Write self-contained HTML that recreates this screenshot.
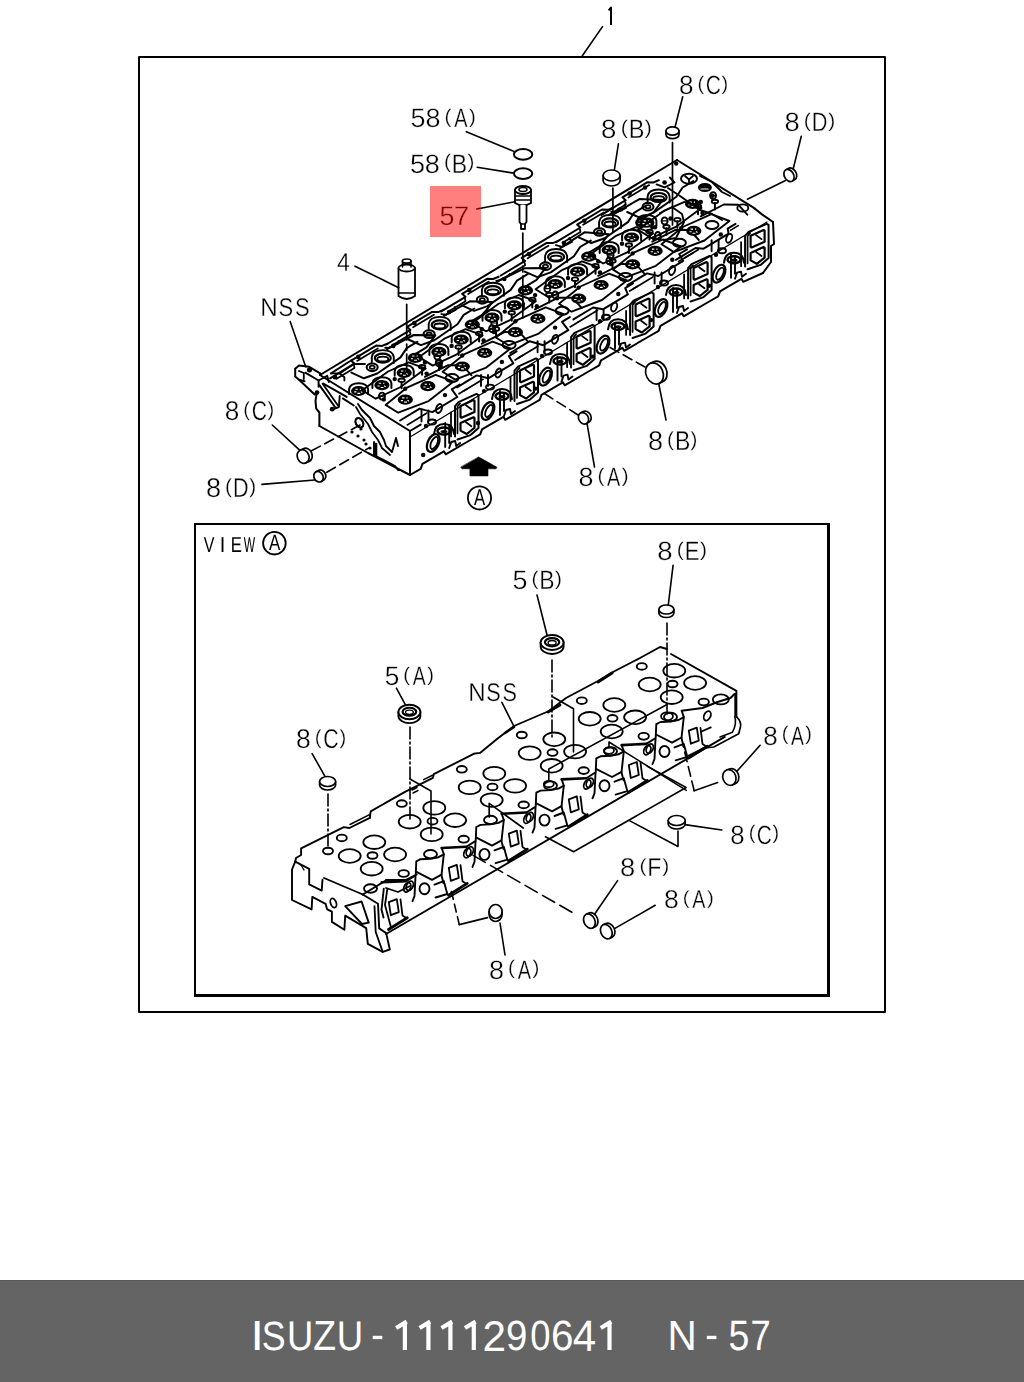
<!DOCTYPE html>
<html><head><meta charset="utf-8"><style>
html,body{margin:0;padding:0;background:#fff;}
body{width:1024px;height:1382px;position:relative;overflow:hidden;}
svg{position:absolute;left:0;top:0;}
svg text{text-rendering:geometricPrecision;}
.main{will-change:transform;}
svg text{font-family:"Liberation Sans",sans-serif;}
.bar{position:absolute;left:0;top:1280px;width:1024px;height:102px;background:#646464;}
.bar span{position:absolute;top:0;white-space:nowrap;color:#fff;font-family:"Liberation Sans",sans-serif;}
</style></head><body>
<svg class="main" width="1024" height="1280" viewBox="0 0 1024 1280" stroke="#000" stroke-linecap="round" stroke-linejoin="round" fill="none">
<rect x="139" y="57" width="746" height="955" stroke-width="2" fill="none"/>
<path d="M194,523 H830 V997 H194 Z M196,525 V994 H827 V525 Z" fill="#000" fill-rule="evenodd" stroke="none"/>
<path d="M611,24.9 L611,7.6 L608.6,10.3" stroke-width="2" stroke-linecap="butt"/>
<line x1="602.5" y1="26.6" x2="582.2" y2="56.0" stroke-width="1.6"/>
<text transform="translate(410.52,127.00) scale(0.2694,0.2643)" font-size="100" fill="#000" stroke="#fff" stroke-width="1.2">5</text>
<text transform="translate(425.41,127.00) scale(0.2694,0.2643)" font-size="100" fill="#000" stroke="#fff" stroke-width="1.2">8</text>
<text transform="translate(444.50,122.87) scale(0.2065,0.1968)" font-size="100" fill="#000" stroke="#fff" stroke-width="1.2">(</text>
<text transform="translate(454.14,127.00) scale(0.1995,0.2643)" font-size="100" fill="#000" stroke="#fff" stroke-width="1.2">A</text>
<text transform="translate(468.93,122.87) scale(0.2065,0.1968)" font-size="100" fill="#000" stroke="#fff" stroke-width="1.2">)</text>
<text transform="translate(409.92,172.50) scale(0.2703,0.2643)" font-size="100" fill="#000" stroke="#fff" stroke-width="1.2">5</text>
<text transform="translate(424.86,172.50) scale(0.2703,0.2643)" font-size="100" fill="#000" stroke="#fff" stroke-width="1.2">8</text>
<text transform="translate(444.01,168.37) scale(0.2072,0.1968)" font-size="100" fill="#000" stroke="#fff" stroke-width="1.2">(</text>
<text transform="translate(451.85,172.50) scale(0.2301,0.2643)" font-size="100" fill="#000" stroke="#fff" stroke-width="1.2">B</text>
<text transform="translate(467.51,168.37) scale(0.2072,0.1968)" font-size="100" fill="#000" stroke="#fff" stroke-width="1.2">)</text>
<text transform="translate(678.96,94.00) scale(0.2610,0.2643)" font-size="100" fill="#000" stroke="#fff" stroke-width="1.2">8</text>
<text transform="translate(697.44,89.87) scale(0.2000,0.1968)" font-size="100" fill="#000" stroke="#fff" stroke-width="1.2">(</text>
<text transform="translate(705.74,94.00) scale(0.2103,0.2643)" font-size="100" fill="#000" stroke="#fff" stroke-width="1.2">C</text>
<text transform="translate(721.60,89.87) scale(0.2000,0.1968)" font-size="100" fill="#000" stroke="#fff" stroke-width="1.2">)</text>
<text transform="translate(601.09,138.00) scale(0.2763,0.2643)" font-size="100" fill="#000" stroke="#fff" stroke-width="1.2">8</text>
<text transform="translate(620.67,133.87) scale(0.2118,0.1968)" font-size="100" fill="#000" stroke="#fff" stroke-width="1.2">(</text>
<text transform="translate(628.68,138.00) scale(0.2352,0.2643)" font-size="100" fill="#000" stroke="#fff" stroke-width="1.2">B</text>
<text transform="translate(644.68,133.87) scale(0.2118,0.1968)" font-size="100" fill="#000" stroke="#fff" stroke-width="1.2">)</text>
<text transform="translate(784.40,131.00) scale(0.2739,0.2643)" font-size="100" fill="#000" stroke="#fff" stroke-width="1.2">8</text>
<text transform="translate(803.81,126.87) scale(0.2099,0.1968)" font-size="100" fill="#000" stroke="#fff" stroke-width="1.2">(</text>
<text transform="translate(811.87,131.00) scale(0.2182,0.2643)" font-size="100" fill="#000" stroke="#fff" stroke-width="1.2">D</text>
<text transform="translate(828.13,126.87) scale(0.2099,0.1968)" font-size="100" fill="#000" stroke="#fff" stroke-width="1.2">)</text>
<text transform="translate(337.04,270.50) scale(0.2314,0.2571)" font-size="100" fill="#000" stroke="#fff" stroke-width="1.2">4</text>
<text transform="translate(260.36,316.00) scale(0.2426,0.2571)" font-size="100" fill="#000" stroke="#fff" stroke-width="1.2">N</text>
<text transform="translate(278.60,316.00) scale(0.2193,0.2571)" font-size="100" fill="#000" stroke="#fff" stroke-width="1.2">S</text>
<text transform="translate(294.90,316.00) scale(0.2193,0.2571)" font-size="100" fill="#000" stroke="#fff" stroke-width="1.2">S</text>
<text transform="translate(224.75,420.00) scale(0.2621,0.2714)" font-size="100" fill="#000" stroke="#fff" stroke-width="1.2">8</text>
<text transform="translate(243.32,415.76) scale(0.2009,0.2021)" font-size="100" fill="#000" stroke="#fff" stroke-width="1.2">(</text>
<text transform="translate(251.65,420.00) scale(0.2112,0.2714)" font-size="100" fill="#000" stroke="#fff" stroke-width="1.2">C</text>
<text transform="translate(267.58,415.76) scale(0.2009,0.2021)" font-size="100" fill="#000" stroke="#fff" stroke-width="1.2">)</text>
<text transform="translate(205.92,497.00) scale(0.2711,0.2714)" font-size="100" fill="#000" stroke="#fff" stroke-width="1.2">8</text>
<text transform="translate(225.12,492.76) scale(0.2078,0.2021)" font-size="100" fill="#000" stroke="#fff" stroke-width="1.2">(</text>
<text transform="translate(233.10,497.00) scale(0.2159,0.2714)" font-size="100" fill="#000" stroke="#fff" stroke-width="1.2">D</text>
<text transform="translate(249.19,492.76) scale(0.2078,0.2021)" font-size="100" fill="#000" stroke="#fff" stroke-width="1.2">)</text>
<text transform="translate(578.43,486.00) scale(0.2682,0.2643)" font-size="100" fill="#000" stroke="#fff" stroke-width="1.2">8</text>
<text transform="translate(597.43,481.87) scale(0.2056,0.1968)" font-size="100" fill="#000" stroke="#fff" stroke-width="1.2">(</text>
<text transform="translate(607.03,486.00) scale(0.1986,0.2643)" font-size="100" fill="#000" stroke="#fff" stroke-width="1.2">A</text>
<text transform="translate(621.75,481.87) scale(0.2056,0.1968)" font-size="100" fill="#000" stroke="#fff" stroke-width="1.2">)</text>
<text transform="translate(647.92,450.00) scale(0.2705,0.2714)" font-size="100" fill="#000" stroke="#fff" stroke-width="1.2">8</text>
<text transform="translate(667.08,445.76) scale(0.2074,0.2021)" font-size="100" fill="#000" stroke="#fff" stroke-width="1.2">(</text>
<text transform="translate(674.93,450.00) scale(0.2303,0.2714)" font-size="100" fill="#000" stroke="#fff" stroke-width="1.2">B</text>
<text transform="translate(690.60,445.76) scale(0.2074,0.2021)" font-size="100" fill="#000" stroke="#fff" stroke-width="1.2">)</text>
<text transform="translate(203.64,551.60) scale(0.1600,0.2159)" font-size="100" fill="#000" stroke="#fff" stroke-width="0">V</text>
<text transform="translate(219.70,551.60) scale(0.2000,0.2159)" font-size="100" fill="#000" stroke="#fff" stroke-width="0">I</text>
<text transform="translate(230.67,551.60) scale(0.1667,0.2159)" font-size="100" fill="#000" stroke="#fff" stroke-width="0">E</text>
<text transform="translate(243.68,551.60) scale(0.1204,0.2159)" font-size="100" fill="#000" stroke="#fff" stroke-width="0">W</text>
<text transform="translate(657.20,560.00) scale(0.2752,0.2643)" font-size="100" fill="#000" stroke="#fff" stroke-width="1.2">8</text>
<text transform="translate(676.70,555.87) scale(0.2110,0.1968)" font-size="100" fill="#000" stroke="#fff" stroke-width="1.2">(</text>
<text transform="translate(684.79,560.00) scale(0.2204,0.2643)" font-size="100" fill="#000" stroke="#fff" stroke-width="1.2">E</text>
<text transform="translate(700.10,555.87) scale(0.2110,0.1968)" font-size="100" fill="#000" stroke="#fff" stroke-width="1.2">)</text>
<text transform="translate(512.42,589.00) scale(0.2700,0.2643)" font-size="100" fill="#000" stroke="#fff" stroke-width="1.2">5</text>
<text transform="translate(531.55,584.87) scale(0.2069,0.1968)" font-size="100" fill="#000" stroke="#fff" stroke-width="1.2">(</text>
<text transform="translate(539.37,589.00) scale(0.2298,0.2643)" font-size="100" fill="#000" stroke="#fff" stroke-width="1.2">B</text>
<text transform="translate(555.01,584.87) scale(0.2069,0.1968)" font-size="100" fill="#000" stroke="#fff" stroke-width="1.2">)</text>
<text transform="translate(384.75,685.00) scale(0.2626,0.2643)" font-size="100" fill="#000" stroke="#fff" stroke-width="1.2">5</text>
<text transform="translate(403.35,680.87) scale(0.2013,0.1968)" font-size="100" fill="#000" stroke="#fff" stroke-width="1.2">(</text>
<text transform="translate(412.75,685.00) scale(0.1945,0.2643)" font-size="100" fill="#000" stroke="#fff" stroke-width="1.2">A</text>
<text transform="translate(427.17,680.87) scale(0.2013,0.1968)" font-size="100" fill="#000" stroke="#fff" stroke-width="1.2">)</text>
<text transform="translate(468.28,701.00) scale(0.2400,0.2571)" font-size="100" fill="#000" stroke="#fff" stroke-width="1.2">N</text>
<text transform="translate(486.32,701.00) scale(0.2169,0.2571)" font-size="100" fill="#000" stroke="#fff" stroke-width="1.2">S</text>
<text transform="translate(502.45,701.00) scale(0.2169,0.2571)" font-size="100" fill="#000" stroke="#fff" stroke-width="1.2">S</text>
<text transform="translate(296.04,748.00) scale(0.2654,0.2714)" font-size="100" fill="#000" stroke="#fff" stroke-width="1.2">8</text>
<text transform="translate(314.84,743.76) scale(0.2034,0.2021)" font-size="100" fill="#000" stroke="#fff" stroke-width="1.2">(</text>
<text transform="translate(323.27,748.00) scale(0.2138,0.2714)" font-size="100" fill="#000" stroke="#fff" stroke-width="1.2">C</text>
<text transform="translate(339.41,743.76) scale(0.2034,0.2021)" font-size="100" fill="#000" stroke="#fff" stroke-width="1.2">)</text>
<text transform="translate(763.16,744.50) scale(0.2609,0.2643)" font-size="100" fill="#000" stroke="#fff" stroke-width="1.2">8</text>
<text transform="translate(781.64,740.37) scale(0.2000,0.1968)" font-size="100" fill="#000" stroke="#fff" stroke-width="1.2">(</text>
<text transform="translate(790.98,744.50) scale(0.1932,0.2643)" font-size="100" fill="#000" stroke="#fff" stroke-width="1.2">A</text>
<text transform="translate(805.30,740.37) scale(0.2000,0.1968)" font-size="100" fill="#000" stroke="#fff" stroke-width="1.2">)</text>
<text transform="translate(730.37,843.50) scale(0.2582,0.2643)" font-size="100" fill="#000" stroke="#fff" stroke-width="1.2">8</text>
<text transform="translate(748.66,839.37) scale(0.1979,0.1968)" font-size="100" fill="#000" stroke="#fff" stroke-width="1.2">(</text>
<text transform="translate(756.86,843.50) scale(0.2080,0.2643)" font-size="100" fill="#000" stroke="#fff" stroke-width="1.2">C</text>
<text transform="translate(772.56,839.37) scale(0.1979,0.1968)" font-size="100" fill="#000" stroke="#fff" stroke-width="1.2">)</text>
<text transform="translate(620.01,876.00) scale(0.2736,0.2571)" font-size="100" fill="#000" stroke="#fff" stroke-width="1.2">8</text>
<text transform="translate(639.39,871.98) scale(0.2097,0.1915)" font-size="100" fill="#000" stroke="#fff" stroke-width="1.2">(</text>
<text transform="translate(647.33,876.00) scale(0.2309,0.2571)" font-size="100" fill="#000" stroke="#fff" stroke-width="1.2">F</text>
<text transform="translate(662.14,871.98) scale(0.2097,0.1915)" font-size="100" fill="#000" stroke="#fff" stroke-width="1.2">)</text>
<text transform="translate(663.93,908.00) scale(0.2665,0.2571)" font-size="100" fill="#000" stroke="#fff" stroke-width="1.2">8</text>
<text transform="translate(682.81,903.98) scale(0.2043,0.1915)" font-size="100" fill="#000" stroke="#fff" stroke-width="1.2">(</text>
<text transform="translate(692.36,908.00) scale(0.1974,0.2571)" font-size="100" fill="#000" stroke="#fff" stroke-width="1.2">A</text>
<text transform="translate(706.98,903.98) scale(0.2043,0.1915)" font-size="100" fill="#000" stroke="#fff" stroke-width="1.2">)</text>
<text transform="translate(488.92,978.50) scale(0.2693,0.2643)" font-size="100" fill="#000" stroke="#fff" stroke-width="1.2">8</text>
<text transform="translate(508.00,974.37) scale(0.2064,0.1968)" font-size="100" fill="#000" stroke="#fff" stroke-width="1.2">(</text>
<text transform="translate(517.65,978.50) scale(0.1995,0.2643)" font-size="100" fill="#000" stroke="#fff" stroke-width="1.2">A</text>
<text transform="translate(532.43,974.37) scale(0.2064,0.1968)" font-size="100" fill="#000" stroke="#fff" stroke-width="1.2">)</text>
<ellipse cx="274.4" cy="543.2" rx="11.3" ry="11.3" fill="none" stroke-width="1.8"/>
<text transform="translate(269.00,550.20) scale(0.1697,0.2203)" font-size="100" fill="#000" stroke="#fff" stroke-width="0">A</text>
<ellipse cx="479.5" cy="497.9" rx="11.6" ry="11.6" fill="none" stroke-width="1.8"/>
<text transform="translate(474.00,504.70) scale(0.1667,0.2275)" font-size="100" fill="#000" stroke="#fff" stroke-width="0">A</text>
<path d="M478.9,457.1 L497.0,467.3 L496.0,468.8 L488.0,468.8 L488.0,475.9 L469.9,475.9 L469.9,468.8 L462.0,468.8 L460.9,467.3 Z" fill="#000" stroke-width="0.6"/>
<path d="M320.0,375.0 L677.0,160.0" fill="none" stroke-width="2.0"/>
<path d="M677.0,160.0 L753.5,207.6 L762.0,214.4 L773.0,222.0" fill="none" stroke-width="2.0"/>
<path d="M320.0,375.0 L410.0,431.0" fill="none" stroke-width="2.0"/>
<path d="M410.0,431.0 L410.0,475.0" fill="none" stroke-width="2.0"/>
<path d="M319.4,426.0 L368.0,453.0 L410.0,475.0" fill="none" stroke-width="2.0"/>
<ellipse cx="359.4" cy="422.8" rx="3.5" ry="5" fill="none" stroke-width="2.0" transform="rotate(-30 359.4 422.8)"/>
<path d="M358.0,404.0 L362.0,410.0 L370.0,418.0 L374.0,426.0 L380.0,432.0 L384.0,440.0 L386.0,446.0 L392.0,452.0 L396.0,438.0 L398.0,446.0" fill="none" stroke-width="1.9"/>
<path d="M356.0,407.0 L360.0,414.0 L368.0,424.0 L372.0,432.0 L378.0,440.0 L382.0,448.0 L390.0,455.0" fill="none" stroke-width="1.7"/>
<circle cx="352.0" cy="432.0" r="1.6" fill="#000" stroke="none"/>
<circle cx="358.0" cy="436.0" r="1.6" fill="#000" stroke="none"/>
<circle cx="364.0" cy="440.0" r="1.6" fill="#000" stroke="none"/>
<circle cx="361.0" cy="429.0" r="1.6" fill="#000" stroke="none"/>
<circle cx="366.0" cy="444.0" r="1.6" fill="#000" stroke="none"/>
<circle cx="370.0" cy="448.0" r="1.6" fill="#000" stroke="none"/>
<path d="M374.0,442.0 L374.0,455.0 L395.0,466.0 L398.0,470.0 L400.0,470.0" fill="none" stroke-width="1.9"/>
<path d="M376.0,444.0 L376.0,456.0" fill="none" stroke-width="2.6"/>
<path d="M410.0,475.0 L420.7,468.8 L422.5,463.8 L443.9,451.3 L445.7,454.3 L469.5,440.5 L469.5,440.5 L480.2,434.3 L482.0,429.3 L503.4,416.8 L505.2,419.8 L529.0,406.0 L529.0,406.0 L539.7,399.8 L541.5,394.8 L562.9,382.3 L564.7,385.3 L588.5,371.5 L588.5,371.5 L599.2,365.3 L601.0,360.3 L622.4,347.8 L624.2,350.8 L648.0,337.0 L648.0,337.0 L658.7,330.8 L660.5,325.8 L681.9,313.3 L683.7,316.3 L707.5,302.5 L707.5,302.5 L718.2,296.3 L720.0,291.3 L741.4,278.8 L743.2,281.8 L763.0,273.0" fill="none" stroke-width="2.0"/>
<path d="M773.0,222.0 L774.0,244.0 L771.0,246.0 L771.0,262.0 L763.0,273.0" fill="none" stroke-width="2.0"/>
<path d="M330.1,378.3 L354.4,363.6 L351.1,360.7 L376.1,345.6 L382.1,345.9 L387.6,343.6" fill="none" stroke-width="2.0"/>
<path d="M357.1,360.9 L377.8,348.5" fill="none" stroke-width="1.8"/>
<path d="M336.6,378.8 L354.5,368.0 L354.0,365.6" fill="none" stroke-width="1.8"/>
<circle cx="358.3" cy="356.9" r="2.3" fill="#000" stroke="none"/>
<circle cx="393.3" cy="345.9" r="2.3" fill="#000" stroke="none"/>
<path d="M385.2,347.8 L388.8,347.9 L398.6,343.1 L398.6,340.9" fill="none" stroke-width="1.9"/>
<path d="M371.8,363.1 L371.8,357.1 Q372.8,350.1 382.8,350.1 Q392.8,350.1 393.8,357.1 L393.8,363.1" stroke-width="1.9"/>
<ellipse cx="382.8" cy="358.1" rx="8" ry="4.5" fill="none" stroke-width="2.2"/>
<ellipse cx="382.8" cy="359.1" rx="5.5" ry="2.4" fill="none" stroke-width="1.8"/>
<ellipse cx="372.2" cy="367.3" rx="5.5" ry="3.8" fill="none" stroke-width="2.1"/>
<ellipse cx="372.2" cy="367.3" rx="2.5" ry="1.6" fill="none" stroke-width="1.8"/>
<path d="M351.4,372.6 L363.9,378.3 L377.3,373.5 L400.5,357.4 L406.7,348.1 L417.5,341.7" fill="none" stroke-width="2.0"/>
<path d="M387.0,349.0 L413.8,335.0 L435.3,335.3 L426.5,347.3 L414.0,354.8" fill="none" stroke-width="2.0"/>
<path d="M372.4,388.1 L372.4,383.1 Q373.4,377.3 381.9,377.3 Q390.4,377.3 391.4,383.1 L391.4,388.1" stroke-width="2"/>
<ellipse cx="381.9" cy="385.1" rx="7.6" ry="5.1" fill="#000" stroke="none"/>
<path d="M378.7,383.3 h2.4 M383.1,383.3 h1.2 M377.5,386.0 h2.2 M380.7,387.5 h2.8 M384.1,385.7 l1.5,1" stroke="#fff" stroke-width="1.1" stroke-linecap="butt"/>
<path d="M394.7,375.8 L394.7,370.8 Q395.7,365.0 404.2,365.0 Q412.7,365.0 413.7,370.8 L413.7,375.8" stroke-width="2"/>
<ellipse cx="404.2" cy="372.8" rx="7.6" ry="5.1" fill="#000" stroke="none"/>
<path d="M401.0,371.0 h2.4 M405.4,371.0 h1.2 M399.8,373.7 h2.2 M403.0,375.2 h2.8 M406.4,373.4 l1.5,1" stroke="#fff" stroke-width="1.1" stroke-linecap="butt"/>
<ellipse cx="405.3" cy="399.7" rx="7.6" ry="5.1" fill="#000" stroke="none"/>
<path d="M402.1,397.9 h2.4 M406.5,397.9 h1.2 M400.9,400.6 h2.2 M404.1,402.1 h2.8 M407.5,400.3 l1.5,1" stroke="#fff" stroke-width="1.1" stroke-linecap="butt"/>
<ellipse cx="427.8" cy="386.1" rx="7.6" ry="5.1" fill="#000" stroke="none"/>
<path d="M424.6,384.3 h2.4 M429.0,384.3 h1.2 M423.4,387.0 h2.2 M426.6,388.5 h2.8 M430.0,386.7 l1.5,1" stroke="#fff" stroke-width="1.1" stroke-linecap="butt"/>
<ellipse cx="415.3" cy="357.8" rx="7.6" ry="5.1" fill="#000" stroke="none"/>
<path d="M412.1,356.0 h2.4 M416.5,356.0 h1.2 M410.9,358.7 h2.2 M414.1,360.2 h2.8 M417.5,358.4 l1.5,1" stroke="#fff" stroke-width="1.1" stroke-linecap="butt"/>
<ellipse cx="452.1" cy="378.1" rx="6.5" ry="4" fill="none" stroke-width="2"/>
<path d="M349.1,394.0 L349.1,389.0 Q350.1,383.2 358.6,383.2 Q367.1,383.2 368.1,389.0 L368.1,394.0" stroke-width="2"/>
<ellipse cx="358.6" cy="391.0" rx="7.6" ry="5.1" fill="#000" stroke="none"/>
<path d="M355.4,389.2 h2.4 M359.8,389.2 h1.2 M354.2,391.9 h2.2 M357.4,393.4 h2.8 M360.8,391.6 l1.5,1" stroke="#fff" stroke-width="1.1" stroke-linecap="butt"/>
<circle cx="424.9" cy="362.5" r="2.2" fill="#000" stroke="none"/>
<circle cx="445.0" cy="395.1" r="2.2" fill="#000" stroke="none"/>
<circle cx="394.7" cy="379.1" r="2.2" fill="#000" stroke="none"/>
<circle cx="383.8" cy="399.4" r="2.2" fill="#000" stroke="none"/>
<circle cx="426.6" cy="373.6" r="2.2" fill="#000" stroke="none"/>
<circle cx="405.2" cy="388.7" r="2.2" fill="#000" stroke="none"/>
<ellipse cx="401.6" cy="380.3" rx="3.2" ry="1.8" fill="none" stroke-width="1.9"/>
<path d="M401.6,381.8 L401.6,388.3" fill="none" stroke-width="2.0"/>
<ellipse cx="422.1" cy="366.8" rx="3.2" ry="1.8" fill="none" stroke-width="1.9"/>
<path d="M422.1,368.3 L422.1,374.8" fill="none" stroke-width="2.0"/>
<ellipse cx="439.1" cy="362.1" rx="3.2" ry="1.8" fill="none" stroke-width="1.9"/>
<path d="M439.1,363.6 L439.1,370.1" fill="none" stroke-width="2.0"/>
<ellipse cx="382.0" cy="396.1" rx="3" ry="3.5" fill="none" stroke-width="1.9"/>
<line x1="380.0" y1="396.1" x2="384.0" y2="396.1" stroke-width="1.2"/>
<ellipse cx="437.3" cy="356.2" rx="3" ry="3.5" fill="none" stroke-width="1.9"/>
<line x1="435.3" y1="356.2" x2="439.3" y2="356.2" stroke-width="1.2"/>
<path d="M362.2,390.3 L388.1,371.5 L408.6,362.4 L425.7,368.6 L399.8,387.5 L375.7,398.7 Z" fill="none" stroke-width="1.9"/>
<path d="M385.6,404.9 L407.0,387.6 L435.6,374.8 L453.6,381.6 L428.6,401.1 L398.2,412.7 Z" fill="none" stroke-width="1.9"/>
<path d="M424.9,376.9 L448.1,365.1 L462.4,365.3 L471.5,375.3" fill="none" stroke-width="1.9"/>
<path d="M400.1,420.5 L419.7,408.6 L432.3,412.1 L457.3,397.0 L451.8,389.3 L459.7,384.5" fill="none" stroke-width="2.0"/>
<path d="M407.3,424.9 L426.9,413.1" fill="none" stroke-width="1.7"/>
<path d="M459.0,393.8 L466.9,389.0" fill="none" stroke-width="1.7"/>
<path d="M386.2,344.5 L410.5,329.9 L407.1,326.9 L432.1,311.9 L438.1,312.1 L443.7,309.9" fill="none" stroke-width="2.0"/>
<path d="M413.1,327.2 L433.9,314.7" fill="none" stroke-width="1.8"/>
<path d="M392.7,345.0 L410.5,334.3 L410.0,331.8" fill="none" stroke-width="1.8"/>
<circle cx="414.4" cy="323.1" r="2.3" fill="#000" stroke="none"/>
<circle cx="449.3" cy="312.1" r="2.3" fill="#000" stroke="none"/>
<path d="M441.3,314.1 L445.8,314.7 L455.6,309.9 L454.7,307.1" fill="none" stroke-width="1.9"/>
<path d="M428.7,329.9 L428.7,323.9 Q429.7,316.9 439.7,316.9 Q449.7,316.9 450.7,323.9 L450.7,329.9" stroke-width="1.9"/>
<ellipse cx="439.7" cy="324.9" rx="8" ry="4.5" fill="none" stroke-width="2.2"/>
<ellipse cx="439.7" cy="325.9" rx="5.5" ry="2.4" fill="none" stroke-width="1.8"/>
<ellipse cx="429.1" cy="334.1" rx="5.5" ry="3.8" fill="none" stroke-width="2.1"/>
<ellipse cx="429.1" cy="334.1" rx="2.5" ry="1.6" fill="none" stroke-width="1.8"/>
<path d="M408.3,339.5 L420.9,345.1 L434.3,340.3 L457.5,324.2 L463.7,314.9 L474.4,308.5" fill="none" stroke-width="2.0"/>
<path d="M444.0,315.8 L469.9,301.3 L492.3,302.1 L483.4,314.1 L470.9,321.6" fill="none" stroke-width="2.0"/>
<path d="M429.4,354.9 L429.4,349.9 Q430.4,344.1 438.9,344.1 Q447.4,344.1 448.4,349.9 L448.4,354.9" stroke-width="2"/>
<ellipse cx="438.9" cy="351.9" rx="7.6" ry="5.1" fill="#000" stroke="none"/>
<path d="M435.7,350.1 h2.4 M440.1,350.1 h1.2 M434.5,352.8 h2.2 M437.7,354.3 h2.8 M441.1,352.5 l1.5,1" stroke="#fff" stroke-width="1.1" stroke-linecap="butt"/>
<path d="M451.7,342.6 L451.7,337.6 Q452.7,331.8 461.2,331.8 Q469.7,331.8 470.7,337.6 L470.7,342.6" stroke-width="2"/>
<ellipse cx="461.2" cy="339.6" rx="7.6" ry="5.1" fill="#000" stroke="none"/>
<path d="M458.0,337.8 h2.4 M462.4,337.8 h1.2 M456.8,340.5 h2.2 M460.0,342.0 h2.8 M463.4,340.2 l1.5,1" stroke="#fff" stroke-width="1.1" stroke-linecap="butt"/>
<ellipse cx="462.3" cy="366.5" rx="7.6" ry="5.1" fill="#000" stroke="none"/>
<path d="M459.1,364.7 h2.4 M463.5,364.7 h1.2 M457.9,367.4 h2.2 M461.1,368.9 h2.8 M464.5,367.1 l1.5,1" stroke="#fff" stroke-width="1.1" stroke-linecap="butt"/>
<ellipse cx="484.7" cy="352.9" rx="7.6" ry="5.1" fill="#000" stroke="none"/>
<path d="M481.5,351.1 h2.4 M485.9,351.1 h1.2 M480.3,353.8 h2.2 M483.5,355.3 h2.8 M486.9,353.5 l1.5,1" stroke="#fff" stroke-width="1.1" stroke-linecap="butt"/>
<ellipse cx="472.3" cy="324.6" rx="7.6" ry="5.1" fill="#000" stroke="none"/>
<path d="M469.1,322.8 h2.4 M473.5,322.8 h1.2 M467.9,325.5 h2.2 M471.1,327.0 h2.8 M474.5,325.2 l1.5,1" stroke="#fff" stroke-width="1.1" stroke-linecap="butt"/>
<ellipse cx="509.1" cy="344.9" rx="6.5" ry="4" fill="none" stroke-width="2"/>
<circle cx="481.9" cy="329.3" r="2.2" fill="#000" stroke="none"/>
<circle cx="501.9" cy="361.9" r="2.2" fill="#000" stroke="none"/>
<circle cx="451.6" cy="345.9" r="2.2" fill="#000" stroke="none"/>
<circle cx="440.7" cy="366.2" r="2.2" fill="#000" stroke="none"/>
<circle cx="483.6" cy="340.4" r="2.2" fill="#000" stroke="none"/>
<circle cx="462.2" cy="355.5" r="2.2" fill="#000" stroke="none"/>
<ellipse cx="458.6" cy="347.1" rx="3.2" ry="1.8" fill="none" stroke-width="1.9"/>
<path d="M458.6,348.6 L458.6,355.1" fill="none" stroke-width="2.0"/>
<ellipse cx="479.1" cy="333.6" rx="3.2" ry="1.8" fill="none" stroke-width="1.9"/>
<path d="M479.1,335.1 L479.1,341.6" fill="none" stroke-width="2.0"/>
<ellipse cx="496.1" cy="328.9" rx="3.2" ry="1.8" fill="none" stroke-width="1.9"/>
<path d="M496.1,330.4 L496.1,336.9" fill="none" stroke-width="2.0"/>
<ellipse cx="438.9" cy="362.9" rx="3" ry="3.5" fill="none" stroke-width="1.9"/>
<line x1="436.9" y1="362.9" x2="440.9" y2="362.9" stroke-width="1.2"/>
<ellipse cx="494.2" cy="323.0" rx="3" ry="3.5" fill="none" stroke-width="1.9"/>
<line x1="492.2" y1="323.0" x2="496.2" y2="323.0" stroke-width="1.2"/>
<path d="M419.2,357.1 L445.0,338.3 L465.6,329.2 L482.7,335.4 L456.8,354.3 L432.7,365.6 Z" fill="none" stroke-width="1.9"/>
<path d="M442.6,371.7 L464.0,354.4 L492.6,341.6 L510.5,348.4 L485.6,367.9 L455.2,379.6 Z" fill="none" stroke-width="1.9"/>
<path d="M481.8,343.7 L505.0,331.9 L519.4,332.1 L528.4,342.1" fill="none" stroke-width="1.9"/>
<path d="M457.0,387.3 L476.7,375.4 L488.3,378.3 L513.3,363.3 L508.8,356.1 L516.6,351.4" fill="none" stroke-width="2.0"/>
<path d="M463.3,391.2 L483.0,379.3" fill="none" stroke-width="1.7"/>
<path d="M515.1,360.0 L522.9,355.3" fill="none" stroke-width="1.7"/>
<path d="M441.2,311.4 L465.5,296.8 L462.1,293.8 L487.1,278.8 L493.1,279.0 L498.7,276.8" fill="none" stroke-width="2.0"/>
<path d="M468.1,294.1 L488.8,281.6" fill="none" stroke-width="1.8"/>
<path d="M447.6,311.9 L465.5,301.2 L465.0,298.7" fill="none" stroke-width="1.8"/>
<circle cx="469.3" cy="290.0" r="2.3" fill="#000" stroke="none"/>
<circle cx="504.3" cy="279.0" r="2.3" fill="#000" stroke="none"/>
<path d="M496.3,281.0 L498.9,280.5 L508.8,275.6 L509.7,274.0" fill="none" stroke-width="1.9"/>
<path d="M481.9,295.7 L481.9,289.7 Q482.9,282.7 492.9,282.7 Q502.9,282.7 503.9,289.7 L503.9,295.7" stroke-width="1.9"/>
<ellipse cx="492.9" cy="290.7" rx="8" ry="4.5" fill="none" stroke-width="2.2"/>
<ellipse cx="492.9" cy="291.7" rx="5.5" ry="2.4" fill="none" stroke-width="1.8"/>
<ellipse cx="482.3" cy="299.8" rx="5.5" ry="3.8" fill="none" stroke-width="2.1"/>
<ellipse cx="482.3" cy="299.8" rx="2.5" ry="1.6" fill="none" stroke-width="1.8"/>
<path d="M461.5,305.2 L474.1,310.9 L487.5,306.1 L510.7,289.9 L516.9,280.7 L527.6,274.2" fill="none" stroke-width="2.0"/>
<path d="M497.2,281.5 L524.9,268.2 L545.5,267.9 L536.6,279.8 L524.1,287.4" fill="none" stroke-width="2.0"/>
<path d="M482.5,320.7 L482.5,315.7 Q483.5,309.9 492.0,309.9 Q500.5,309.9 501.5,315.7 L501.5,320.7" stroke-width="2"/>
<ellipse cx="492.0" cy="317.7" rx="7.6" ry="5.1" fill="#000" stroke="none"/>
<path d="M488.8,315.9 h2.4 M493.2,315.9 h1.2 M487.6,318.6 h2.2 M490.8,320.1 h2.8 M494.2,318.3 l1.5,1" stroke="#fff" stroke-width="1.1" stroke-linecap="butt"/>
<path d="M504.9,308.3 L504.9,303.3 Q505.9,297.5 514.4,297.5 Q522.9,297.5 523.9,303.3 L523.9,308.3" stroke-width="2"/>
<ellipse cx="514.4" cy="305.3" rx="7.6" ry="5.1" fill="#000" stroke="none"/>
<path d="M511.2,303.5 h2.4 M515.6,303.5 h1.2 M510.0,306.2 h2.2 M513.2,307.7 h2.8 M516.6,305.9 l1.5,1" stroke="#fff" stroke-width="1.1" stroke-linecap="butt"/>
<ellipse cx="515.4" cy="332.2" rx="7.6" ry="5.1" fill="#000" stroke="none"/>
<path d="M512.2,330.4 h2.4 M516.6,330.4 h1.2 M511.0,333.1 h2.2 M514.2,334.6 h2.8 M517.6,332.8 l1.5,1" stroke="#fff" stroke-width="1.1" stroke-linecap="butt"/>
<ellipse cx="537.9" cy="318.7" rx="7.6" ry="5.1" fill="#000" stroke="none"/>
<path d="M534.7,316.9 h2.4 M539.1,316.9 h1.2 M533.5,319.6 h2.2 M536.7,321.1 h2.8 M540.1,319.3 l1.5,1" stroke="#fff" stroke-width="1.1" stroke-linecap="butt"/>
<ellipse cx="525.5" cy="290.4" rx="7.6" ry="5.1" fill="#000" stroke="none"/>
<path d="M522.3,288.6 h2.4 M526.7,288.6 h1.2 M521.1,291.3 h2.2 M524.3,292.8 h2.8 M527.7,291.0 l1.5,1" stroke="#fff" stroke-width="1.1" stroke-linecap="butt"/>
<ellipse cx="562.2" cy="310.7" rx="6.5" ry="4" fill="none" stroke-width="2"/>
<circle cx="535.1" cy="295.1" r="2.2" fill="#000" stroke="none"/>
<circle cx="555.1" cy="327.6" r="2.2" fill="#000" stroke="none"/>
<circle cx="504.8" cy="311.6" r="2.2" fill="#000" stroke="none"/>
<circle cx="493.9" cy="332.0" r="2.2" fill="#000" stroke="none"/>
<circle cx="536.8" cy="306.2" r="2.2" fill="#000" stroke="none"/>
<circle cx="515.4" cy="321.3" r="2.2" fill="#000" stroke="none"/>
<ellipse cx="511.7" cy="312.8" rx="3.2" ry="1.8" fill="none" stroke-width="1.9"/>
<path d="M511.7,314.3 L511.7,320.8" fill="none" stroke-width="2.0"/>
<ellipse cx="532.3" cy="299.4" rx="3.2" ry="1.8" fill="none" stroke-width="1.9"/>
<path d="M532.3,300.9 L532.3,307.4" fill="none" stroke-width="2.0"/>
<ellipse cx="549.3" cy="294.6" rx="3.2" ry="1.8" fill="none" stroke-width="1.9"/>
<path d="M549.3,296.1 L549.3,302.6" fill="none" stroke-width="2.0"/>
<ellipse cx="492.1" cy="328.7" rx="3" ry="3.5" fill="none" stroke-width="1.9"/>
<line x1="490.1" y1="328.7" x2="494.1" y2="328.7" stroke-width="1.2"/>
<ellipse cx="547.4" cy="288.7" rx="3" ry="3.5" fill="none" stroke-width="1.9"/>
<line x1="545.4" y1="288.7" x2="549.4" y2="288.7" stroke-width="1.2"/>
<path d="M472.4,322.9 L498.2,304.0 L518.8,295.0 L535.8,301.2 L510.0,320.1 L485.9,331.3 Z" fill="none" stroke-width="1.9"/>
<path d="M495.8,337.5 L517.1,320.2 L545.7,307.4 L563.7,314.2 L538.7,333.6 L508.4,345.3 Z" fill="none" stroke-width="1.9"/>
<path d="M535.0,309.4 L558.2,297.7 L572.6,297.8 L581.6,307.8" fill="none" stroke-width="1.9"/>
<path d="M510.2,353.0 L529.8,341.2 L543.3,345.2 L568.3,330.2 L562.0,321.9 L569.8,317.1" fill="none" stroke-width="2.0"/>
<path d="M518.3,358.1 L537.9,346.2" fill="none" stroke-width="1.7"/>
<path d="M570.1,326.9 L577.9,322.2" fill="none" stroke-width="1.7"/>
<path d="M500.8,275.5 L525.1,260.9 L521.7,257.9 L546.7,242.9 L552.7,243.1 L558.3,240.9" fill="none" stroke-width="2.0"/>
<path d="M527.7,258.2 L548.4,245.7" fill="none" stroke-width="1.8"/>
<path d="M507.3,276.0 L525.1,265.3 L524.6,262.8" fill="none" stroke-width="1.8"/>
<circle cx="529.0" cy="254.1" r="2.3" fill="#000" stroke="none"/>
<circle cx="563.9" cy="243.1" r="2.3" fill="#000" stroke="none"/>
<path d="M555.9,245.1 L562.2,246.8 L572.0,242.0 L569.3,238.1" fill="none" stroke-width="1.9"/>
<path d="M545.1,262.0 L545.1,256.0 Q546.1,249.0 556.1,249.0 Q566.1,249.0 567.1,256.0 L567.1,262.0" stroke-width="1.9"/>
<ellipse cx="556.1" cy="257.0" rx="8" ry="4.5" fill="none" stroke-width="2.2"/>
<ellipse cx="556.1" cy="258.0" rx="5.5" ry="2.4" fill="none" stroke-width="1.8"/>
<ellipse cx="545.5" cy="266.2" rx="5.5" ry="3.8" fill="none" stroke-width="2.1"/>
<ellipse cx="545.5" cy="266.2" rx="2.5" ry="1.6" fill="none" stroke-width="1.8"/>
<path d="M524.7,271.6 L537.3,277.2 L550.7,272.4 L573.9,256.3 L580.1,247.0 L590.8,240.6" fill="none" stroke-width="2.0"/>
<path d="M560.4,247.9 L584.5,232.3 L608.7,234.2 L599.8,246.2 L587.3,253.7" fill="none" stroke-width="2.0"/>
<path d="M545.8,287.0 L545.8,282.0 Q546.8,276.2 555.3,276.2 Q563.8,276.2 564.8,282.0 L564.8,287.0" stroke-width="2"/>
<ellipse cx="555.3" cy="284.0" rx="7.6" ry="5.1" fill="#000" stroke="none"/>
<path d="M552.1,282.2 h2.4 M556.5,282.2 h1.2 M550.9,284.9 h2.2 M554.1,286.4 h2.8 M557.5,284.6 l1.5,1" stroke="#fff" stroke-width="1.1" stroke-linecap="butt"/>
<path d="M568.1,274.7 L568.1,269.7 Q569.1,263.9 577.6,263.9 Q586.1,263.9 587.1,269.7 L587.1,274.7" stroke-width="2"/>
<ellipse cx="577.6" cy="271.7" rx="7.6" ry="5.1" fill="#000" stroke="none"/>
<path d="M574.4,269.9 h2.4 M578.8,269.9 h1.2 M573.2,272.6 h2.2 M576.4,274.1 h2.8 M579.8,272.3 l1.5,1" stroke="#fff" stroke-width="1.1" stroke-linecap="butt"/>
<ellipse cx="578.7" cy="298.6" rx="7.6" ry="5.1" fill="#000" stroke="none"/>
<path d="M575.5,296.8 h2.4 M579.9,296.8 h1.2 M574.3,299.5 h2.2 M577.5,301.0 h2.8 M580.9,299.2 l1.5,1" stroke="#fff" stroke-width="1.1" stroke-linecap="butt"/>
<ellipse cx="601.1" cy="285.0" rx="7.6" ry="5.1" fill="#000" stroke="none"/>
<path d="M597.9,283.2 h2.4 M602.3,283.2 h1.2 M596.7,285.9 h2.2 M599.9,287.4 h2.8 M603.3,285.6 l1.5,1" stroke="#fff" stroke-width="1.1" stroke-linecap="butt"/>
<ellipse cx="588.7" cy="256.7" rx="7.6" ry="5.1" fill="#000" stroke="none"/>
<path d="M585.5,254.9 h2.4 M589.9,254.9 h1.2 M584.3,257.6 h2.2 M587.5,259.1 h2.8 M590.9,257.3 l1.5,1" stroke="#fff" stroke-width="1.1" stroke-linecap="butt"/>
<ellipse cx="625.5" cy="277.0" rx="6.5" ry="4" fill="none" stroke-width="2"/>
<circle cx="598.3" cy="261.4" r="2.2" fill="#000" stroke="none"/>
<circle cx="618.3" cy="294.0" r="2.2" fill="#000" stroke="none"/>
<circle cx="568.0" cy="278.0" r="2.2" fill="#000" stroke="none"/>
<circle cx="557.1" cy="298.3" r="2.2" fill="#000" stroke="none"/>
<circle cx="600.0" cy="272.5" r="2.2" fill="#000" stroke="none"/>
<circle cx="578.6" cy="287.6" r="2.2" fill="#000" stroke="none"/>
<ellipse cx="575.0" cy="279.2" rx="3.2" ry="1.8" fill="none" stroke-width="1.9"/>
<path d="M575.0,280.7 L575.0,287.2" fill="none" stroke-width="2.0"/>
<ellipse cx="595.5" cy="265.7" rx="3.2" ry="1.8" fill="none" stroke-width="1.9"/>
<path d="M595.5,267.2 L595.5,273.7" fill="none" stroke-width="2.0"/>
<ellipse cx="612.5" cy="261.0" rx="3.2" ry="1.8" fill="none" stroke-width="1.9"/>
<path d="M612.5,262.5 L612.5,269.0" fill="none" stroke-width="2.0"/>
<ellipse cx="555.3" cy="295.0" rx="3" ry="3.5" fill="none" stroke-width="1.9"/>
<line x1="553.3" y1="295.0" x2="557.3" y2="295.0" stroke-width="1.2"/>
<ellipse cx="610.6" cy="255.1" rx="3" ry="3.5" fill="none" stroke-width="1.9"/>
<line x1="608.6" y1="255.1" x2="612.6" y2="255.1" stroke-width="1.2"/>
<path d="M535.6,289.3 L561.4,270.4 L582.0,261.3 L599.1,267.6 L573.2,286.4 L549.1,297.7 Z" fill="none" stroke-width="1.9"/>
<path d="M559.0,303.8 L580.4,286.5 L609.0,273.7 L626.9,280.5 L602.0,300.0 L571.6,311.7 Z" fill="none" stroke-width="1.9"/>
<path d="M598.2,275.8 L621.4,264.0 L635.8,264.2 L644.8,274.2" fill="none" stroke-width="1.9"/>
<path d="M573.4,319.4 L593.1,307.5 L602.9,309.3 L627.9,294.3 L625.2,288.2 L633.0,283.5" fill="none" stroke-width="2.0"/>
<path d="M577.9,322.2 L597.6,310.3" fill="none" stroke-width="1.7"/>
<path d="M629.7,291.0 L637.5,286.3" fill="none" stroke-width="1.7"/>
<path d="M556.1,242.2 L580.4,227.5 L577.1,224.6 L602.1,209.5 L608.1,209.8 L613.6,207.5" fill="none" stroke-width="2.0"/>
<path d="M583.1,224.8 L603.8,212.4" fill="none" stroke-width="1.8"/>
<path d="M562.6,242.7 L580.4,231.9 L580.0,229.5" fill="none" stroke-width="1.8"/>
<circle cx="584.3" cy="220.8" r="2.3" fill="#000" stroke="none"/>
<circle cx="619.3" cy="209.8" r="2.3" fill="#000" stroke="none"/>
<path d="M611.2,211.7 L616.2,212.6 L626.0,207.8 L624.6,204.8" fill="none" stroke-width="1.9"/>
<path d="M599.1,227.9 L599.1,221.9 Q600.1,214.9 610.1,214.9 Q620.1,214.9 621.1,221.9 L621.1,227.9" stroke-width="1.9"/>
<ellipse cx="610.1" cy="222.9" rx="8" ry="4.5" fill="none" stroke-width="2.2"/>
<ellipse cx="610.1" cy="223.9" rx="5.5" ry="2.4" fill="none" stroke-width="1.8"/>
<ellipse cx="599.5" cy="232.0" rx="5.5" ry="3.8" fill="none" stroke-width="2.1"/>
<ellipse cx="599.5" cy="232.0" rx="2.5" ry="1.6" fill="none" stroke-width="1.8"/>
<path d="M578.7,237.4 L591.3,243.0 L604.7,238.3 L627.9,222.1 L634.1,212.8 L644.8,206.4" fill="none" stroke-width="2.0"/>
<path d="M614.4,213.7 L639.8,198.9 L662.7,200.0 L653.8,212.0 L641.3,219.5" fill="none" stroke-width="2.0"/>
<path d="M599.7,252.9 L599.7,247.9 Q600.7,242.1 609.2,242.1 Q617.7,242.1 618.7,247.9 L618.7,252.9" stroke-width="2"/>
<ellipse cx="609.2" cy="249.9" rx="7.6" ry="5.1" fill="#000" stroke="none"/>
<path d="M606.0,248.1 h2.4 M610.4,248.1 h1.2 M604.8,250.8 h2.2 M608.0,252.3 h2.8 M611.4,250.5 l1.5,1" stroke="#fff" stroke-width="1.1" stroke-linecap="butt"/>
<path d="M622.1,240.5 L622.1,235.5 Q623.1,229.7 631.6,229.7 Q640.1,229.7 641.1,235.5 L641.1,240.5" stroke-width="2"/>
<ellipse cx="631.6" cy="237.5" rx="7.6" ry="5.1" fill="#000" stroke="none"/>
<path d="M628.4,235.7 h2.4 M632.8,235.7 h1.2 M627.2,238.4 h2.2 M630.4,239.9 h2.8 M633.8,238.1 l1.5,1" stroke="#fff" stroke-width="1.1" stroke-linecap="butt"/>
<ellipse cx="632.6" cy="264.4" rx="7.6" ry="5.1" fill="#000" stroke="none"/>
<path d="M629.4,262.6 h2.4 M633.8,262.6 h1.2 M628.2,265.3 h2.2 M631.4,266.8 h2.8 M634.8,265.0 l1.5,1" stroke="#fff" stroke-width="1.1" stroke-linecap="butt"/>
<ellipse cx="655.1" cy="250.9" rx="7.6" ry="5.1" fill="#000" stroke="none"/>
<path d="M651.9,249.1 h2.4 M656.3,249.1 h1.2 M650.7,251.8 h2.2 M653.9,253.3 h2.8 M657.3,251.5 l1.5,1" stroke="#fff" stroke-width="1.1" stroke-linecap="butt"/>
<ellipse cx="642.7" cy="222.6" rx="7.6" ry="5.1" fill="#000" stroke="none"/>
<path d="M639.5,220.8 h2.4 M643.9,220.8 h1.2 M638.3,223.5 h2.2 M641.5,225.0 h2.8 M644.9,223.2 l1.5,1" stroke="#fff" stroke-width="1.1" stroke-linecap="butt"/>
<ellipse cx="679.4" cy="242.8" rx="6.5" ry="4" fill="none" stroke-width="2"/>
<circle cx="652.3" cy="227.2" r="2.2" fill="#000" stroke="none"/>
<circle cx="672.3" cy="259.8" r="2.2" fill="#000" stroke="none"/>
<circle cx="622.0" cy="243.8" r="2.2" fill="#000" stroke="none"/>
<circle cx="611.1" cy="264.1" r="2.2" fill="#000" stroke="none"/>
<circle cx="654.0" cy="238.3" r="2.2" fill="#000" stroke="none"/>
<circle cx="632.6" cy="253.4" r="2.2" fill="#000" stroke="none"/>
<ellipse cx="628.9" cy="245.0" rx="3.2" ry="1.8" fill="none" stroke-width="1.9"/>
<path d="M628.9,246.5 L628.9,253.0" fill="none" stroke-width="2.0"/>
<ellipse cx="649.5" cy="231.5" rx="3.2" ry="1.8" fill="none" stroke-width="1.9"/>
<path d="M649.5,233.0 L649.5,239.5" fill="none" stroke-width="2.0"/>
<ellipse cx="666.5" cy="226.8" rx="3.2" ry="1.8" fill="none" stroke-width="1.9"/>
<path d="M666.5,228.3 L666.5,234.8" fill="none" stroke-width="2.0"/>
<ellipse cx="609.3" cy="260.8" rx="3" ry="3.5" fill="none" stroke-width="1.9"/>
<line x1="607.3" y1="260.8" x2="611.3" y2="260.8" stroke-width="1.2"/>
<ellipse cx="664.6" cy="220.9" rx="3" ry="3.5" fill="none" stroke-width="1.9"/>
<line x1="662.6" y1="220.9" x2="666.6" y2="220.9" stroke-width="1.2"/>
<path d="M589.6,255.1 L615.4,236.2 L636.0,227.1 L653.0,233.4 L627.2,252.3 L603.1,263.5 Z" fill="none" stroke-width="1.9"/>
<path d="M613.0,269.6 L634.3,252.4 L662.9,239.5 L680.9,246.4 L655.9,265.8 L625.6,277.5 Z" fill="none" stroke-width="1.9"/>
<path d="M652.2,241.6 L675.4,229.8 L689.8,230.0 L698.8,240.0" fill="none" stroke-width="1.9"/>
<path d="M627.4,285.2 L647.0,273.4 L658.3,276.0 L683.2,260.9 L679.2,254.0 L687.0,249.3" fill="none" stroke-width="2.0"/>
<path d="M633.3,288.8 L652.9,277.0" fill="none" stroke-width="1.7"/>
<path d="M685.0,257.7 L692.9,252.9" fill="none" stroke-width="1.7"/>
<path d="M601.5,214.9 L625.7,200.2 L622.4,197.3 L647.4,182.2 L653.4,182.5 L658.9,180.2" fill="none" stroke-width="2.0"/>
<path d="M628.4,197.5 L649.1,185.1" fill="none" stroke-width="1.8"/>
<path d="M607.9,215.4 L625.8,204.6 L625.3,202.2" fill="none" stroke-width="1.8"/>
<circle cx="629.6" cy="193.5" r="2.3" fill="#000" stroke="none"/>
<circle cx="664.6" cy="182.5" r="2.3" fill="#000" stroke="none"/>
<path d="M656.6,184.4 L664.6,187.3 L674.5,182.5 L669.9,177.5" fill="none" stroke-width="1.9"/>
<path d="M647.6,202.5 L647.6,196.5 Q648.6,189.5 658.6,189.5 Q668.6,189.5 669.6,196.5 L669.6,202.5" stroke-width="1.9"/>
<ellipse cx="658.6" cy="197.5" rx="8" ry="4.5" fill="none" stroke-width="2.2"/>
<ellipse cx="658.6" cy="198.5" rx="5.5" ry="2.4" fill="none" stroke-width="1.8"/>
<ellipse cx="648.0" cy="206.7" rx="5.5" ry="3.8" fill="none" stroke-width="2.1"/>
<ellipse cx="648.0" cy="206.7" rx="2.5" ry="1.6" fill="none" stroke-width="1.8"/>
<path d="M627.2,212.0 L639.8,217.7 L653.2,212.9 L676.4,196.8 L682.6,187.5 L693.3,181.1" fill="none" stroke-width="2.0"/>
<path d="M637.4,225.7 L637.4,220.7 Q638.4,214.9 646.9,214.9 Q655.4,214.9 656.4,220.7 L656.4,225.7" stroke-width="2"/>
<ellipse cx="646.9" cy="222.7" rx="7.6" ry="5.1" fill="#000" stroke="none"/>
<path d="M643.7,220.9 h2.4 M648.1,220.9 h1.2 M642.5,223.6 h2.2 M645.7,225.1 h2.8 M649.1,223.3 l1.5,1" stroke="#fff" stroke-width="1.1" stroke-linecap="butt"/>
<ellipse cx="692.6" cy="203.9" rx="7.6" ry="5.1" fill="#000" stroke="none"/>
<path d="M689.4,202.1 h2.4 M693.8,202.1 h1.2 M688.2,204.8 h2.2 M691.4,206.3 h2.8 M694.8,204.5 l1.5,1" stroke="#fff" stroke-width="1.1" stroke-linecap="butt"/>
<ellipse cx="693.8" cy="230.9" rx="7.6" ry="5.1" fill="#000" stroke="none"/>
<path d="M690.6,229.1 h2.4 M695.0,229.1 h1.2 M689.4,231.8 h2.2 M692.6,233.3 h2.8 M696.0,231.5 l1.5,1" stroke="#fff" stroke-width="1.1" stroke-linecap="butt"/>
<ellipse cx="689.0" cy="178.7" rx="8" ry="5" fill="none" stroke-width="2"/>
<path d="M685.0,176.0 L689.0,179.5 L693.0,176.0" fill="none" stroke-width="1.8"/>
<path d="M689.0,179.5 L689.0,183.0" fill="none" stroke-width="1.8"/>
<ellipse cx="704.9" cy="187.5" rx="7" ry="4.6" fill="#000" stroke="none"/>
<path d="M701.0,189.0 L708.0,189.0" fill="none" stroke-width="1.2"/>
<path d="M701,189 h7" stroke="#fff" stroke-width="1.2"/>
<circle cx="645.1" cy="187.5" r="2.2" fill="#000" stroke="none"/>
<circle cx="712.5" cy="195.7" r="2.2" fill="#000" stroke="none"/>
<circle cx="621.1" cy="209.2" r="2.2" fill="#000" stroke="none"/>
<circle cx="655.0" cy="227.3" r="2.2" fill="#000" stroke="none"/>
<circle cx="676.2" cy="163.5" r="2.2" fill="#000" stroke="none"/>
<ellipse cx="742.8" cy="208.0" rx="5.5" ry="3.6" fill="none" stroke-width="1.9"/>
<ellipse cx="712.0" cy="225.0" rx="6.5" ry="4" fill="none" stroke-width="1.9"/>
<path d="M668.0,188.0 L680.0,196.0 L700.0,210.0 L712.0,214.0 L722.0,220.0" fill="none" stroke-width="1.9"/>
<path d="M660.0,213.0 L672.0,207.0 L682.0,214.0 L684.0,222.0 L676.0,238.0 L664.0,240.0" fill="none" stroke-width="1.9"/>
<path d="M700.0,176.0 L712.0,182.0 L722.0,192.0 L730.0,196.0" fill="none" stroke-width="1.9"/>
<circle cx="700.8" cy="201.9" r="2.2" fill="#000" stroke="none"/>
<circle cx="720.8" cy="234.5" r="2.2" fill="#000" stroke="none"/>
<circle cx="670.5" cy="218.5" r="2.2" fill="#000" stroke="none"/>
<circle cx="659.6" cy="238.8" r="2.2" fill="#000" stroke="none"/>
<circle cx="702.5" cy="213.0" r="2.2" fill="#000" stroke="none"/>
<circle cx="681.1" cy="228.1" r="2.2" fill="#000" stroke="none"/>
<ellipse cx="677.4" cy="219.7" rx="3.2" ry="1.8" fill="none" stroke-width="1.9"/>
<path d="M677.4,221.2 L677.4,227.7" fill="none" stroke-width="2.0"/>
<ellipse cx="698.0" cy="206.2" rx="3.2" ry="1.8" fill="none" stroke-width="1.9"/>
<path d="M698.0,207.7 L698.0,214.2" fill="none" stroke-width="2.0"/>
<ellipse cx="714.9" cy="201.5" rx="3.2" ry="1.8" fill="none" stroke-width="1.9"/>
<path d="M714.9,203.0 L714.9,209.5" fill="none" stroke-width="2.0"/>
<ellipse cx="657.8" cy="235.5" rx="3" ry="3.5" fill="none" stroke-width="1.9"/>
<line x1="655.8" y1="235.5" x2="659.8" y2="235.5" stroke-width="1.2"/>
<ellipse cx="713.1" cy="195.6" rx="3" ry="3.5" fill="none" stroke-width="1.9"/>
<line x1="711.1" y1="195.6" x2="715.1" y2="195.6" stroke-width="1.2"/>
<path d="M638.0,229.7 L663.9,210.9 L684.5,201.8 L701.5,208.0 L675.7,226.9 L651.5,238.1 Z" fill="none" stroke-width="1.9"/>
<path d="M661.4,244.3 L682.8,227.0 L711.4,214.2 L729.4,221.0 L704.4,240.5 L674.0,252.1 Z" fill="none" stroke-width="1.9"/>
<path d="M700.7,216.3 L723.9,204.5 L738.2,204.7 L747.3,214.7" fill="none" stroke-width="1.9"/>
<path d="M675.9,259.8 L695.5,248.0 L703.6,248.7 L728.6,233.6 L727.7,228.7 L735.5,223.9" fill="none" stroke-width="2.0"/>
<path d="M678.6,261.5 L698.2,249.7" fill="none" stroke-width="1.7"/>
<path d="M730.4,230.4 L738.2,225.6" fill="none" stroke-width="1.7"/>
<path d="M410.0,431.0 L420.7,424.6" fill="none" stroke-width="2.0"/>
<path d="M410.0,437.0 L767.0,222.0" fill="none" stroke-width="1.3"/>
<path d="M460.5,405.9 L473.5,400.1 L474.5,400.9 L474.5,411.9 L461.5,417.7 L460.5,417.1 Z" fill="none" stroke-width="2.2"/>
<path d="M460.5,423.1 L473.5,417.3 L474.5,417.9 L474.5,427.9 L466.7,434.0 L460.5,430.6 Z" fill="none" stroke-width="2.2"/>
<line x1="466.0" y1="405.3" x2="471.4" y2="409.3" stroke-width="1.8"/>
<line x1="466.0" y1="422.2" x2="471.4" y2="426.2" stroke-width="1.8"/>
<path d="M455.0,436.6 L455.0,406.1 L458.5,402.1 L476.5,393.9 L478.5,395.1 L478.5,428.1 L470.5,435.1 L457.5,439.5" fill="none" stroke-width="2.0"/>
<path d="M457.5,433.5 L457.5,406.5 L460.0,403.4" fill="none" stroke-width="1.7"/>
<path d="M451.0,412.4 L451.0,436.4" fill="none" stroke-width="1.8"/>
<path d="M428.5,410.5 L428.5,421.5" fill="none" stroke-width="1.9"/>
<path d="M421.5,410.5 L421.5,421.5" fill="none" stroke-width="1.9"/>
<ellipse cx="439.0" cy="408.5" rx="2.8" ry="4.6" fill="none" stroke-width="1.9" transform="rotate(20 439.0 408.5)"/>
<path d="M520.0,370.4 L533.0,364.6 L534.0,365.4 L534.0,376.4 L521.0,382.2 L520.0,381.6 Z" fill="none" stroke-width="2.2"/>
<path d="M520.0,387.6 L533.0,381.8 L534.0,382.4 L534.0,392.4 L526.2,398.5 L520.0,395.1 Z" fill="none" stroke-width="2.2"/>
<line x1="525.5" y1="369.8" x2="530.9" y2="373.8" stroke-width="1.8"/>
<line x1="525.5" y1="386.7" x2="530.9" y2="390.7" stroke-width="1.8"/>
<path d="M514.5,401.1 L514.5,370.6 L518.0,366.6 L536.0,358.4 L538.0,359.6 L538.0,392.6 L530.0,399.6 L517.0,404.0" fill="none" stroke-width="2.0"/>
<path d="M517.0,398.0 L517.0,371.0 L519.5,367.9" fill="none" stroke-width="1.7"/>
<path d="M510.5,376.9 L510.5,400.9" fill="none" stroke-width="1.8"/>
<path d="M488.0,375.0 L488.0,386.0" fill="none" stroke-width="1.9"/>
<path d="M481.0,375.0 L481.0,386.0" fill="none" stroke-width="1.9"/>
<ellipse cx="498.5" cy="373.0" rx="2.8" ry="4.6" fill="none" stroke-width="1.9" transform="rotate(20 498.5 373.0)"/>
<path d="M576.6,336.8 L589.6,330.9 L590.6,331.7 L590.6,342.7 L577.6,348.5 L576.6,347.9 Z" fill="none" stroke-width="2.2"/>
<path d="M576.6,353.9 L589.6,348.1 L590.6,348.7 L590.6,358.7 L582.8,364.8 L576.6,361.4 Z" fill="none" stroke-width="2.2"/>
<line x1="582.1" y1="336.1" x2="587.5" y2="340.1" stroke-width="1.8"/>
<line x1="582.1" y1="353.0" x2="587.5" y2="357.0" stroke-width="1.8"/>
<path d="M571.1,367.4 L571.1,336.9 L574.6,332.9 L592.6,324.8 L594.6,325.9 L594.6,358.9 L586.6,365.9 L573.6,370.3" fill="none" stroke-width="2.0"/>
<path d="M573.6,364.3 L573.6,337.3 L576.1,334.2" fill="none" stroke-width="1.7"/>
<path d="M567.1,343.2 L567.1,367.2" fill="none" stroke-width="1.8"/>
<path d="M544.6,341.3 L544.6,352.3" fill="none" stroke-width="1.9"/>
<path d="M537.6,341.3 L537.6,352.3" fill="none" stroke-width="1.9"/>
<ellipse cx="555.1" cy="339.3" rx="2.8" ry="4.6" fill="none" stroke-width="1.9" transform="rotate(20 555.1 339.3)"/>
<path d="M635.6,304.4 L648.6,298.6 L649.6,299.4 L649.6,310.4 L636.6,316.2 L635.6,315.6 Z" fill="none" stroke-width="2.2"/>
<path d="M635.6,321.6 L648.6,315.8 L649.6,316.4 L649.6,326.4 L641.8,332.5 L635.6,329.1 Z" fill="none" stroke-width="2.2"/>
<line x1="641.1" y1="303.8" x2="646.5" y2="307.8" stroke-width="1.8"/>
<line x1="641.1" y1="320.7" x2="646.5" y2="324.7" stroke-width="1.8"/>
<path d="M630.1,335.1 L630.1,304.6 L633.6,300.6 L651.6,292.4 L653.6,293.6 L653.6,326.6 L645.6,333.6 L632.6,338.0" fill="none" stroke-width="2.0"/>
<path d="M632.6,332.0 L632.6,305.0 L635.1,301.9" fill="none" stroke-width="1.7"/>
<path d="M626.1,310.9 L626.1,334.9" fill="none" stroke-width="1.8"/>
<path d="M603.6,309.0 L603.6,320.0" fill="none" stroke-width="1.9"/>
<path d="M596.6,309.0 L596.6,320.0" fill="none" stroke-width="1.9"/>
<ellipse cx="614.1" cy="307.0" rx="2.8" ry="4.6" fill="none" stroke-width="1.9" transform="rotate(20 614.1 307.0)"/>
<path d="M693.6,267.9 L706.6,262.1 L707.6,262.9 L707.6,273.9 L694.6,279.7 L693.6,279.1 Z" fill="none" stroke-width="2.2"/>
<path d="M693.6,285.1 L706.6,279.3 L707.6,279.9 L707.6,289.9 L699.8,296.0 L693.6,292.6 Z" fill="none" stroke-width="2.2"/>
<line x1="699.1" y1="267.3" x2="704.5" y2="271.3" stroke-width="1.8"/>
<line x1="699.1" y1="284.2" x2="704.5" y2="288.2" stroke-width="1.8"/>
<path d="M688.1,298.6 L688.1,268.1 L691.6,264.1 L709.6,255.9 L711.6,257.1 L711.6,290.1 L703.6,297.1 L690.6,301.5" fill="none" stroke-width="2.0"/>
<path d="M690.6,295.5 L690.6,268.5 L693.1,265.4" fill="none" stroke-width="1.7"/>
<path d="M684.1,274.4 L684.1,298.4" fill="none" stroke-width="1.8"/>
<path d="M661.6,272.5 L661.6,283.5" fill="none" stroke-width="1.9"/>
<path d="M654.6,272.5 L654.6,283.5" fill="none" stroke-width="1.9"/>
<ellipse cx="672.1" cy="270.5" rx="2.8" ry="4.6" fill="none" stroke-width="1.9" transform="rotate(20 672.1 270.5)"/>
<path d="M750.6,235.8 L763.6,229.9 L764.6,230.7 L764.6,241.7 L751.6,247.5 L750.6,247.0 Z" fill="none" stroke-width="2.2"/>
<path d="M750.6,253.0 L763.6,247.1 L764.6,247.7 L764.6,257.7 L756.8,263.8 L750.6,260.4 Z" fill="none" stroke-width="2.2"/>
<line x1="756.1" y1="235.1" x2="761.5" y2="239.1" stroke-width="1.8"/>
<line x1="756.1" y1="252.0" x2="761.5" y2="256.0" stroke-width="1.8"/>
<path d="M745.1,266.4 L745.1,235.9 L748.6,231.9 L766.6,223.8 L768.6,224.9 L768.6,257.9 L760.6,264.9 L747.6,269.3" fill="none" stroke-width="2.0"/>
<path d="M747.6,263.3 L747.6,236.3 L750.1,233.2" fill="none" stroke-width="1.7"/>
<path d="M741.1,242.2 L741.1,266.2" fill="none" stroke-width="1.8"/>
<path d="M718.6,240.3 L718.6,251.3" fill="none" stroke-width="1.9"/>
<path d="M711.6,240.3 L711.6,251.3" fill="none" stroke-width="1.9"/>
<ellipse cx="729.1" cy="238.3" rx="2.8" ry="4.6" fill="none" stroke-width="1.9" transform="rotate(20 729.1 238.3)"/>
<ellipse cx="433.2" cy="443.0" rx="5.5" ry="9.5" fill="none" stroke-width="2.2" transform="rotate(25 433.2 443.0)"/>
<ellipse cx="434.2" cy="443.0" rx="3" ry="6.5" fill="none" stroke-width="1.8" transform="rotate(25 434.2 443.0)"/>
<circle cx="423.2" cy="455.0" r="2.2" fill="#000" stroke="none"/>
<path d="M445.2,423.0 L445.2,447.0" fill="none" stroke-width="1.9"/>
<path d="M449.2,425.0 L449.2,443.0" fill="none" stroke-width="1.9"/>
<path d="M449.2,448.0 L451.2,442.0 L455.2,441.0 L456.2,446.0 L460.2,443.0" fill="none" stroke-width="1.9"/>
<ellipse cx="488.0" cy="411.0" rx="5.5" ry="9.5" fill="none" stroke-width="2.2" transform="rotate(25 488.0 411.0)"/>
<ellipse cx="489.0" cy="411.0" rx="3" ry="6.5" fill="none" stroke-width="1.8" transform="rotate(25 489.0 411.0)"/>
<circle cx="478.0" cy="423.0" r="2.2" fill="#000" stroke="none"/>
<path d="M500.0,391.0 L500.0,415.0" fill="none" stroke-width="1.9"/>
<path d="M504.0,393.0 L504.0,411.0" fill="none" stroke-width="1.9"/>
<path d="M504.0,416.0 L506.0,410.0 L510.0,409.0 L511.0,414.0 L515.0,411.0" fill="none" stroke-width="1.9"/>
<ellipse cx="545.5" cy="376.6" rx="5.5" ry="9.5" fill="none" stroke-width="2.2" transform="rotate(25 545.5 376.6)"/>
<ellipse cx="546.5" cy="376.6" rx="3" ry="6.5" fill="none" stroke-width="1.8" transform="rotate(25 546.5 376.6)"/>
<circle cx="535.5" cy="388.6" r="2.2" fill="#000" stroke="none"/>
<path d="M557.5,356.6 L557.5,380.6" fill="none" stroke-width="1.9"/>
<path d="M561.5,358.6 L561.5,376.6" fill="none" stroke-width="1.9"/>
<path d="M561.5,381.6 L563.5,375.6 L567.5,374.6 L568.5,379.6 L572.5,376.6" fill="none" stroke-width="1.9"/>
<ellipse cx="603.0" cy="344.6" rx="5.5" ry="9.5" fill="none" stroke-width="2.2" transform="rotate(25 603.0 344.6)"/>
<ellipse cx="604.0" cy="344.6" rx="3" ry="6.5" fill="none" stroke-width="1.8" transform="rotate(25 604.0 344.6)"/>
<circle cx="593.0" cy="356.6" r="2.2" fill="#000" stroke="none"/>
<path d="M615.0,324.6 L615.0,348.6" fill="none" stroke-width="1.9"/>
<path d="M619.0,326.6 L619.0,344.6" fill="none" stroke-width="1.9"/>
<path d="M619.0,349.6 L621.0,343.6 L625.0,342.6 L626.0,347.6 L630.0,344.6" fill="none" stroke-width="1.9"/>
<ellipse cx="661.0" cy="308.0" rx="5.5" ry="9.5" fill="none" stroke-width="2.2" transform="rotate(25 661.0 308.0)"/>
<ellipse cx="662.0" cy="308.0" rx="3" ry="6.5" fill="none" stroke-width="1.8" transform="rotate(25 662.0 308.0)"/>
<circle cx="651.0" cy="320.0" r="2.2" fill="#000" stroke="none"/>
<path d="M673.0,288.0 L673.0,312.0" fill="none" stroke-width="1.9"/>
<path d="M677.0,290.0 L677.0,308.0" fill="none" stroke-width="1.9"/>
<path d="M677.0,313.0 L679.0,307.0 L683.0,306.0 L684.0,311.0 L688.0,308.0" fill="none" stroke-width="1.9"/>
<ellipse cx="719.0" cy="273.7" rx="5.5" ry="9.5" fill="none" stroke-width="2.2" transform="rotate(25 719.0 273.7)"/>
<ellipse cx="720.0" cy="273.7" rx="3" ry="6.5" fill="none" stroke-width="1.8" transform="rotate(25 720.0 273.7)"/>
<circle cx="709.0" cy="285.7" r="2.2" fill="#000" stroke="none"/>
<path d="M731.0,253.7 L731.0,277.7" fill="none" stroke-width="1.9"/>
<path d="M735.0,255.7 L735.0,273.7" fill="none" stroke-width="1.9"/>
<path d="M735.0,278.7 L737.0,272.7 L741.0,271.7 L742.0,276.7 L746.0,273.7" fill="none" stroke-width="1.9"/>
<path d="M434.0,434.0 Q435.0,424.0 444.0,424.0 Q453.0,424.0 454.0,434.0" stroke-width="2"/>
<ellipse cx="444.0" cy="431.0" rx="6.5" ry="3.5" fill="none" stroke-width="2.4"/>
<ellipse cx="444.0" cy="431.5" rx="3.5" ry="1.6" fill="#000" stroke="none"/>
<circle cx="426.0" cy="426.0" r="2.2" fill="#000" stroke="none"/>
<ellipse cx="432.0" cy="422.0" rx="4" ry="2.5" fill="none" stroke-width="1.9"/>
<path d="M492.0,399.1 Q493.0,389.1 502.0,389.1 Q511.0,389.1 512.0,399.1" stroke-width="2"/>
<ellipse cx="502.0" cy="396.1" rx="6.5" ry="3.5" fill="none" stroke-width="2.4"/>
<ellipse cx="502.0" cy="396.6" rx="3.5" ry="1.6" fill="#000" stroke="none"/>
<circle cx="484.0" cy="391.1" r="2.2" fill="#000" stroke="none"/>
<ellipse cx="490.0" cy="387.1" rx="4" ry="2.5" fill="none" stroke-width="1.9"/>
<path d="M550.0,364.0 Q551.0,354.0 560.0,354.0 Q569.0,354.0 570.0,364.0" stroke-width="2"/>
<ellipse cx="560.0" cy="361.0" rx="6.5" ry="3.5" fill="none" stroke-width="2.4"/>
<ellipse cx="560.0" cy="361.5" rx="3.5" ry="1.6" fill="#000" stroke="none"/>
<circle cx="542.0" cy="356.0" r="2.2" fill="#000" stroke="none"/>
<ellipse cx="548.0" cy="352.0" rx="4" ry="2.5" fill="none" stroke-width="1.9"/>
<path d="M608.0,329.3 Q609.0,319.3 618.0,319.3 Q627.0,319.3 628.0,329.3" stroke-width="2"/>
<ellipse cx="618.0" cy="326.3" rx="6.5" ry="3.5" fill="none" stroke-width="2.4"/>
<ellipse cx="618.0" cy="326.8" rx="3.5" ry="1.6" fill="#000" stroke="none"/>
<circle cx="600.0" cy="321.3" r="2.2" fill="#000" stroke="none"/>
<ellipse cx="606.0" cy="317.3" rx="4" ry="2.5" fill="none" stroke-width="1.9"/>
<path d="M666.0,295.0 Q667.0,285.0 676.0,285.0 Q685.0,285.0 686.0,295.0" stroke-width="2"/>
<ellipse cx="676.0" cy="292.0" rx="6.5" ry="3.5" fill="none" stroke-width="2.4"/>
<ellipse cx="676.0" cy="292.5" rx="3.5" ry="1.6" fill="#000" stroke="none"/>
<circle cx="658.0" cy="287.0" r="2.2" fill="#000" stroke="none"/>
<ellipse cx="664.0" cy="283.0" rx="4" ry="2.5" fill="none" stroke-width="1.9"/>
<path d="M724.0,262.7 Q725.0,252.7 734.0,252.7 Q743.0,252.7 744.0,262.7" stroke-width="2"/>
<ellipse cx="734.0" cy="259.7" rx="6.5" ry="3.5" fill="none" stroke-width="2.4"/>
<ellipse cx="734.0" cy="260.2" rx="3.5" ry="1.6" fill="#000" stroke="none"/>
<circle cx="716.0" cy="254.7" r="2.2" fill="#000" stroke="none"/>
<ellipse cx="722.0" cy="250.7" rx="4" ry="2.5" fill="none" stroke-width="1.9"/>
<path d="M295.2,861.7 L296.0,858.0 L301.1,855.0 L301.1,848.4 L343.8,827.1 L349.4,828.0 L369.8,817.8 L370.7,811.3 L405.0,791.9 L425.5,781.6 L432.9,777.9 L433.8,774.2 L473.7,753.8 L480.0,752.9 L497.0,739.0 L514.0,726.0 L549.0,711.0 L566.0,698.0 L598.0,681.0 L613.0,672.0 L640.0,658.0 L660.0,647.0 L667.0,649.0" fill="none" stroke-width="1.9"/>
<path d="M350.0,824.5 L369.5,814.6" fill="none" stroke-width="1.6"/>
<path d="M370.0,814.6 L370.0,818.0" fill="none" stroke-width="1.6"/>
<path d="M423.6,779.6 L432.5,775.3" fill="none" stroke-width="1.6"/>
<path d="M412.0,790.0 L417.0,787.5" fill="none" stroke-width="1.4"/>
<path d="M413.0,793.0 L418.0,790.5" fill="none" stroke-width="1.4"/>
<path d="M548.0,712.0 L560.0,705.0" fill="none" stroke-width="2.8"/>
<path d="M598.0,682.0 L612.0,673.0" fill="none" stroke-width="3.0"/>
<path d="M505.0,733.0 L514.0,727.0" fill="none" stroke-width="2.6"/>
<path d="M671.0,654.0 L736.4,690.8 L736.4,716.6" fill="none" stroke-width="1.9"/>
<path d="M736.4,716.6 Q742,722 740.3,727.5 L738.7,733.8 L713.8,747 L704.4,747.8 L688.8,755.6" stroke-width="1.7"/>
<path d="M735.6,694.0 L735.6,715.0" fill="none" stroke-width="2.6"/>
<path d="M734.8,716.6 Q737,724 732.5,732.2 L720,736.9" stroke-width="1.6"/>
<ellipse cx="720.8" cy="699.4" rx="8" ry="5" fill="none" stroke-width="1.8"/>
<path d="M701.0,731.8 L710.8,727.4" fill="none" stroke-width="1.8"/>
<path d="M295.2,861.7 L292.0,869.5 L292.0,900.0 L311.6,909.4 L312.3,896.9 L325.6,903.9 L327.2,909.4 L331.9,911.7 L331.9,921.9 L344.4,929.7 L345.2,915.6 L366.2,928.1 L367.8,943.8 L382.7,951.9 L389.8,949.5 L386.2,933.1 L379.2,928.4 L378.0,903.8 L362.8,894.5" fill="none" stroke-width="1.9"/>
<path d="M374.5,906.2 L375.7,932.0 L382.7,951.9" fill="none" stroke-width="1.8"/>
<path d="M345.2,906.2 L361.6,901.5 L368.7,922.6 L362.0,924.0 Z" fill="none" stroke-width="1.9"/>
<path d="M295.2,861.7 L309.2,868.8 L309.2,884.4 L321.7,890.6 L322.5,879.7" fill="none" stroke-width="1.9"/>
<path d="M324.0,878.0 L362.8,894.5" fill="none" stroke-width="1.9"/>
<path d="M301.0,865.0 L304.0,870.0" fill="none" stroke-width="1.4"/>
<ellipse cx="333.4" cy="903.0" rx="2.8" ry="4.8" fill="none" stroke-width="1.8" transform="rotate(-20 333.4 903.0)"/>
<path d="M362.8,894.5 L386.2,880.4" fill="none" stroke-width="1.9"/>
<path d="M386.2,880.4 L405.0,880.4" fill="none" stroke-width="2.6"/>
<path d="M405.0,880.4 L416.7,874.5" fill="none" stroke-width="1.9"/>
<path d="M387.4,888.6 L385.0,905.0 L391.0,927.3" fill="none" stroke-width="1.8"/>
<path d="M386.0,888.0 L398.0,892.0 L404.0,889.0 L410.0,886.0" fill="none" stroke-width="1.8"/>
<path d="M383.8,888.6 L381.5,909.5 L383.5,917.5" fill="none" stroke-width="1.9"/>
<path d="M388.8,902.2 L396.8,899.2 L398.8,912.2 L390.8,915.2 Z" fill="none" stroke-width="1.8"/>
<path d="M400.5,899.5 L402.5,915.5 L405.5,917.5" fill="none" stroke-width="1.8"/>
<path d="M388.5,929.5 L407.3,917.7" fill="none" stroke-width="2.8"/>
<ellipse cx="407.3" cy="887.3" rx="3.2" ry="5" fill="none" stroke-width="1.8" transform="rotate(25 407.3 887.3)"/>
<path d="M381.7,882.3 L406.3,881.1" fill="none" stroke-width="2.6"/>
<path d="M406.3,881.1 L415.7,875.2 L416.3,861.3 L420.5,859.2 L430.5,858.7 L438.5,857.2 L443.8,854.3 L441.7,848.0" fill="none" stroke-width="1.9"/>
<path d="M416.0,871.7 L432.0,879.9 L441.5,874.7" fill="none" stroke-width="1.9"/>
<path d="M415.5,876.2 L414.5,896.2 L412.5,901.2" fill="none" stroke-width="1.9"/>
<path d="M443.8,854.3 L441.5,875.2 L443.5,883.2" fill="none" stroke-width="1.9"/>
<path d="M448.8,867.9 L456.8,864.9 L458.8,877.9 L450.8,880.9 Z" fill="none" stroke-width="1.8"/>
<path d="M460.5,865.2 L462.5,881.2 L465.5,883.2" fill="none" stroke-width="1.8"/>
<ellipse cx="424.5" cy="888.7" rx="5" ry="5.5" fill="none" stroke-width="1.9"/>
<path d="M434.5,884.6 L443.8,881.1 L447.3,894.0 L435.6,897.5" fill="none" stroke-width="1.9"/>
<path d="M448.5,895.2 L467.3,883.4" fill="none" stroke-width="2.8"/>
<ellipse cx="409.8" cy="885.8" rx="3.2" ry="5" fill="none" stroke-width="1.8" transform="rotate(25 409.8 885.8)"/>
<ellipse cx="467.3" cy="853.0" rx="3.2" ry="5" fill="none" stroke-width="1.8" transform="rotate(25 467.3 853.0)"/>
<path d="M441.7,848.0 L466.3,846.8" fill="none" stroke-width="2.6"/>
<path d="M466.3,846.8 L475.7,840.9 L476.3,827.0 L480.5,824.9 L490.5,824.4 L498.5,822.9 L503.8,820.0 L501.7,813.7" fill="none" stroke-width="1.9"/>
<path d="M476.0,837.4 L492.0,845.6 L501.5,840.4" fill="none" stroke-width="1.9"/>
<path d="M475.5,841.9 L474.5,861.9 L472.5,866.9" fill="none" stroke-width="1.9"/>
<path d="M503.8,820.0 L501.5,840.9 L503.5,848.9" fill="none" stroke-width="1.9"/>
<path d="M508.8,833.6 L516.8,830.6 L518.8,843.6 L510.8,846.6 Z" fill="none" stroke-width="1.8"/>
<path d="M520.5,830.9 L522.5,846.9 L525.5,848.9" fill="none" stroke-width="1.8"/>
<ellipse cx="484.5" cy="854.4" rx="5" ry="5.5" fill="none" stroke-width="1.9"/>
<path d="M494.5,850.3 L503.8,846.8 L507.3,859.7 L495.6,863.2" fill="none" stroke-width="1.9"/>
<path d="M508.5,860.9 L527.3,849.1" fill="none" stroke-width="2.8"/>
<ellipse cx="469.8" cy="851.5" rx="3.2" ry="5" fill="none" stroke-width="1.8" transform="rotate(25 469.8 851.5)"/>
<ellipse cx="527.3" cy="818.7" rx="3.2" ry="5" fill="none" stroke-width="1.8" transform="rotate(25 527.3 818.7)"/>
<path d="M501.7,813.7 L526.3,812.5" fill="none" stroke-width="2.6"/>
<path d="M526.3,812.5 L535.7,806.6 L536.3,792.7 L540.5,790.6 L550.5,790.1 L558.5,788.6 L563.8,785.7 L561.7,779.4" fill="none" stroke-width="1.9"/>
<path d="M536.0,803.1 L552.0,811.3 L561.5,806.1" fill="none" stroke-width="1.9"/>
<path d="M535.5,807.6 L534.5,827.6 L532.5,832.6" fill="none" stroke-width="1.9"/>
<path d="M563.8,785.7 L561.5,806.6 L563.5,814.6" fill="none" stroke-width="1.9"/>
<path d="M568.8,799.3 L576.8,796.3 L578.8,809.3 L570.8,812.3 Z" fill="none" stroke-width="1.8"/>
<path d="M580.5,796.6 L582.5,812.6 L585.5,814.6" fill="none" stroke-width="1.8"/>
<ellipse cx="544.5" cy="820.1" rx="5" ry="5.5" fill="none" stroke-width="1.9"/>
<path d="M554.5,816.0 L563.8,812.5 L567.3,825.4 L555.6,828.9" fill="none" stroke-width="1.9"/>
<path d="M568.5,826.6 L587.3,814.8" fill="none" stroke-width="2.8"/>
<ellipse cx="529.8" cy="817.2" rx="3.2" ry="5" fill="none" stroke-width="1.8" transform="rotate(25 529.8 817.2)"/>
<ellipse cx="587.3" cy="784.4" rx="3.2" ry="5" fill="none" stroke-width="1.8" transform="rotate(25 587.3 784.4)"/>
<path d="M561.7,779.4 L586.3,778.2" fill="none" stroke-width="2.6"/>
<path d="M586.3,778.2 L595.7,772.3 L596.3,758.4 L600.5,756.3 L610.5,755.8 L618.5,754.3 L623.8,751.4 L621.7,745.1" fill="none" stroke-width="1.9"/>
<path d="M596.0,768.8 L612.0,777.0 L621.5,771.8" fill="none" stroke-width="1.9"/>
<path d="M595.5,773.3 L594.5,793.3 L592.5,798.3" fill="none" stroke-width="1.9"/>
<path d="M623.8,751.4 L621.5,772.3 L623.5,780.3" fill="none" stroke-width="1.9"/>
<path d="M628.8,765.0 L636.8,762.0 L638.8,775.0 L630.8,778.0 Z" fill="none" stroke-width="1.8"/>
<path d="M640.5,762.3 L642.5,778.3 L645.5,780.3" fill="none" stroke-width="1.8"/>
<ellipse cx="604.5" cy="785.8" rx="5" ry="5.5" fill="none" stroke-width="1.9"/>
<path d="M614.5,781.7 L623.8,778.2 L627.3,791.1 L615.6,794.6" fill="none" stroke-width="1.9"/>
<path d="M628.5,792.3 L647.3,780.5" fill="none" stroke-width="2.8"/>
<ellipse cx="589.8" cy="782.9" rx="3.2" ry="5" fill="none" stroke-width="1.8" transform="rotate(25 589.8 782.9)"/>
<ellipse cx="647.3" cy="750.1" rx="3.2" ry="5" fill="none" stroke-width="1.8" transform="rotate(25 647.3 750.1)"/>
<path d="M621.7,745.1 L646.3,743.9" fill="none" stroke-width="2.6"/>
<path d="M646.3,743.9 L655.7,738.0 L656.3,724.1 L660.5,722.0 L670.5,721.5 L678.5,720.0 L683.8,717.1 L681.7,710.8" fill="none" stroke-width="1.9"/>
<path d="M681.7,710.8 L702.5,708.0 L717.5,702.0 L730.5,698.0 L734.5,694.0" fill="none" stroke-width="1.9"/>
<path d="M656.0,734.5 L672.0,742.7 L681.5,737.5" fill="none" stroke-width="1.9"/>
<path d="M655.5,739.0 L654.5,759.0 L652.5,764.0" fill="none" stroke-width="1.9"/>
<path d="M683.8,717.1 L681.5,738.0 L683.5,746.0" fill="none" stroke-width="1.9"/>
<path d="M688.8,730.7 L696.8,727.7 L698.8,740.7 L690.8,743.7 Z" fill="none" stroke-width="1.8"/>
<path d="M700.5,728.0 L702.5,744.0 L705.5,746.0" fill="none" stroke-width="1.8"/>
<ellipse cx="664.5" cy="751.5" rx="5" ry="5.5" fill="none" stroke-width="1.9"/>
<path d="M674.5,747.4 L683.8,743.9 L687.3,756.8 L675.6,760.3" fill="none" stroke-width="1.9"/>
<path d="M688.5,758.0 L707.3,746.2" fill="none" stroke-width="2.8"/>
<ellipse cx="649.8" cy="748.6" rx="3.2" ry="5" fill="none" stroke-width="1.8" transform="rotate(25 649.8 748.6)"/>
<ellipse cx="707.3" cy="715.8" rx="3.2" ry="5" fill="none" stroke-width="1.8" transform="rotate(25 707.3 715.8)"/>
<path d="M386.0,934.0 L724.8,736.9" fill="none" stroke-width="1.9"/>
<ellipse cx="349.7" cy="856.0" rx="11" ry="6.8" fill="none" stroke-width="1.8"/>
<ellipse cx="374.3" cy="842.2" rx="11" ry="6.8" fill="none" stroke-width="1.8"/>
<ellipse cx="395.1" cy="854.5" rx="11" ry="6.8" fill="none" stroke-width="1.8"/>
<ellipse cx="371.7" cy="868.7" rx="11" ry="6.8" fill="none" stroke-width="1.8"/>
<ellipse cx="372.5" cy="855.5" rx="5" ry="3.3" fill="none" stroke-width="1.9"/>
<ellipse cx="341.8" cy="837.9" rx="5" ry="3.3" fill="none" stroke-width="1.9"/>
<ellipse cx="403.7" cy="873.5" rx="5.2" ry="3.4" fill="none" stroke-width="1.9"/>
<ellipse cx="370.5" cy="888.5" rx="6.5" ry="4.2" fill="none" stroke-width="1.9"/>
<ellipse cx="409.7" cy="821.7" rx="11" ry="6.8" fill="none" stroke-width="1.8"/>
<ellipse cx="434.3" cy="807.9" rx="11" ry="6.8" fill="none" stroke-width="1.8"/>
<ellipse cx="455.1" cy="820.2" rx="11" ry="6.8" fill="none" stroke-width="1.8"/>
<ellipse cx="431.7" cy="834.4" rx="11" ry="6.8" fill="none" stroke-width="1.8"/>
<ellipse cx="432.5" cy="821.2" rx="5" ry="3.3" fill="none" stroke-width="1.9"/>
<ellipse cx="401.8" cy="803.6" rx="5" ry="3.3" fill="none" stroke-width="1.9"/>
<ellipse cx="463.7" cy="839.2" rx="5.2" ry="3.4" fill="none" stroke-width="1.9"/>
<ellipse cx="430.5" cy="854.2" rx="6.5" ry="4.2" fill="none" stroke-width="1.9"/>
<ellipse cx="469.7" cy="787.4" rx="11" ry="6.8" fill="none" stroke-width="1.8"/>
<ellipse cx="494.3" cy="773.6" rx="11" ry="6.8" fill="none" stroke-width="1.8"/>
<ellipse cx="515.1" cy="785.9" rx="11" ry="6.8" fill="none" stroke-width="1.8"/>
<ellipse cx="491.7" cy="800.1" rx="11" ry="6.8" fill="none" stroke-width="1.8"/>
<ellipse cx="492.5" cy="786.9" rx="5" ry="3.3" fill="none" stroke-width="1.9"/>
<ellipse cx="461.8" cy="769.3" rx="5" ry="3.3" fill="none" stroke-width="1.9"/>
<ellipse cx="523.7" cy="804.9" rx="5.2" ry="3.4" fill="none" stroke-width="1.9"/>
<ellipse cx="490.5" cy="819.9" rx="6.5" ry="4.2" fill="none" stroke-width="1.9"/>
<ellipse cx="529.7" cy="753.1" rx="11" ry="6.8" fill="none" stroke-width="1.8"/>
<ellipse cx="554.3" cy="739.3" rx="11" ry="6.8" fill="none" stroke-width="1.8"/>
<ellipse cx="575.1" cy="751.6" rx="11" ry="6.8" fill="none" stroke-width="1.8"/>
<ellipse cx="551.7" cy="765.8" rx="11" ry="6.8" fill="none" stroke-width="1.8"/>
<ellipse cx="552.5" cy="752.6" rx="5" ry="3.3" fill="none" stroke-width="1.9"/>
<ellipse cx="521.8" cy="735.0" rx="5" ry="3.3" fill="none" stroke-width="1.9"/>
<ellipse cx="583.7" cy="770.6" rx="5.2" ry="3.4" fill="none" stroke-width="1.9"/>
<ellipse cx="550.5" cy="785.6" rx="6.5" ry="4.2" fill="none" stroke-width="1.9"/>
<ellipse cx="589.7" cy="718.8" rx="11" ry="6.8" fill="none" stroke-width="1.8"/>
<ellipse cx="614.3" cy="705.0" rx="11" ry="6.8" fill="none" stroke-width="1.8"/>
<ellipse cx="635.1" cy="717.3" rx="11" ry="6.8" fill="none" stroke-width="1.8"/>
<ellipse cx="611.7" cy="731.5" rx="11" ry="6.8" fill="none" stroke-width="1.8"/>
<ellipse cx="612.5" cy="718.3" rx="5" ry="3.3" fill="none" stroke-width="1.9"/>
<ellipse cx="581.8" cy="700.7" rx="5" ry="3.3" fill="none" stroke-width="1.9"/>
<ellipse cx="643.7" cy="736.3" rx="5.2" ry="3.4" fill="none" stroke-width="1.9"/>
<ellipse cx="610.5" cy="751.3" rx="6.5" ry="4.2" fill="none" stroke-width="1.9"/>
<ellipse cx="649.7" cy="684.5" rx="11" ry="6.8" fill="none" stroke-width="1.8"/>
<ellipse cx="674.3" cy="670.7" rx="11" ry="6.8" fill="none" stroke-width="1.8"/>
<ellipse cx="695.1" cy="683.0" rx="11" ry="6.8" fill="none" stroke-width="1.8"/>
<ellipse cx="671.7" cy="697.2" rx="11" ry="6.8" fill="none" stroke-width="1.8"/>
<ellipse cx="672.5" cy="684.0" rx="5" ry="3.3" fill="none" stroke-width="1.9"/>
<ellipse cx="641.8" cy="666.4" rx="5" ry="3.3" fill="none" stroke-width="1.9"/>
<ellipse cx="703.7" cy="702.0" rx="5.2" ry="3.4" fill="none" stroke-width="1.9"/>
<ellipse cx="670.5" cy="717.0" rx="6.5" ry="4.2" fill="none" stroke-width="1.9"/>
<ellipse cx="328.0" cy="851.0" rx="5" ry="3.3" fill="none" stroke-width="1.9"/>
<line x1="466.3" y1="131.7" x2="514.8" y2="151.7" stroke-width="1.6"/>
<ellipse cx="523.1" cy="154.4" rx="9.2" ry="5.3" fill="none" stroke-width="2"/>
<line x1="477.2" y1="167.3" x2="513.5" y2="173.1" stroke-width="1.6"/>
<ellipse cx="523.1" cy="173.6" rx="9.2" ry="5.3" fill="none" stroke-width="2"/>
<line x1="476.8" y1="209.0" x2="514.9" y2="201.7" stroke-width="1.6"/>
<path d="M515,190 L515,203 Q523,208 531,203 L531,190" fill="#fff" stroke-width="1.8"/>
<ellipse cx="523.0" cy="190.0" rx="8" ry="4" fill="#fff" stroke-width="1.8"/>
<ellipse cx="523.0" cy="189.5" rx="4" ry="2" fill="none" stroke-width="1.6"/>
<line x1="515.0" y1="196.0" x2="531.0" y2="196.0" stroke-width="1.4"/>
<line x1="516.0" y1="200.0" x2="530.0" y2="200.0" stroke-width="1.4"/>
<path d="M519.5,205 L519.5,222 L521,224 L521,229 L525,229 L525,224 L526.5,222 L526.5,205" fill="#fff" stroke-width="1.8"/>
<line x1="521.0" y1="224.0" x2="525.0" y2="224.0" stroke-width="1.4"/>
<line x1="522.8" y1="233.0" x2="522.8" y2="262.0" stroke-width="1.7"/>
<line x1="522.8" y1="266.0" x2="522.8" y2="272.0" stroke-width="1.7"/>
<line x1="522.8" y1="276.0" x2="522.8" y2="318.0" stroke-width="1.7"/>
<path d="M398.5,268 L398.5,296 Q406.7,302 415,296 L415,268" fill="#fff" stroke-width="1.8"/>
<ellipse cx="406.7" cy="268.0" rx="8.2" ry="3.5" fill="#fff" stroke-width="1.8"/>
<path d="M402.5,261 L402.5,267 M411,261 L411,267" stroke-width="1.6"/>
<ellipse cx="406.7" cy="261.0" rx="4.3" ry="2" fill="#fff" stroke-width="1.6"/>
<line x1="403.0" y1="264.0" x2="410.5" y2="264.0" stroke-width="1.3"/>
<line x1="398.5" y1="293.0" x2="415.0" y2="293.0" stroke-width="1.3"/>
<line x1="355.0" y1="266.2" x2="398.7" y2="287.7" stroke-width="1.6"/>
<line x1="406.7" y1="304.4" x2="406.7" y2="340.0" stroke-width="1.7"/>
<line x1="406.7" y1="344.0" x2="406.7" y2="350.0" stroke-width="1.7"/>
<line x1="406.7" y1="354.0" x2="406.7" y2="372.0" stroke-width="1.7"/>
<line x1="682.7" y1="96.8" x2="675.0" y2="127.3" stroke-width="1.6"/>
<g>
<path d="M666.0,131.0 L666.0,134.5 A6.5,4.2 0 0 0 679.0,134.5 L679.0,131.0" fill="#fff" stroke-width="1.7"/>
<ellipse cx="672.5" cy="131.0" rx="6.5" ry="4.2" fill="#fff" stroke-width="1.7"/>
</g>
<line x1="672.5" y1="142.5" x2="672.5" y2="225.0" stroke-width="1.7"/>
<line x1="618.4" y1="143.8" x2="614.1" y2="171.7" stroke-width="1.6"/>
<g>
<path d="M603.1,175.5 L603.1,180.5 A8.5,5.5 0 0 0 620.1,180.5 L620.1,175.5" fill="#fff" stroke-width="1.7"/>
<ellipse cx="611.6" cy="175.5" rx="8.5" ry="5.5" fill="#fff" stroke-width="1.7"/>
</g>
<line x1="612.9" y1="188.0" x2="612.9" y2="232.0" stroke-width="1.7"/>
<line x1="801.3" y1="136.2" x2="793.1" y2="169.2" stroke-width="1.6"/>
<g transform="rotate(-30 789.0 175.5)">
<path d="M789.0,169.0 L792.0,169.0 A4.6,6.5 0 0 1 792.0,182.0 L789.0,182.0" fill="#fff" stroke-width="1.7"/>
<ellipse cx="789.0" cy="175.5" rx="4.6" ry="6.5" fill="#fff" stroke-width="1.7"/>
</g>
<line x1="785.5" y1="180.5" x2="747.4" y2="199.2" stroke-width="1.6"/>
<line x1="290.2" y1="321.6" x2="305.7" y2="366.7" stroke-width="1.6"/>
<path d="M295.2,368.8 L299.0,365.6 L309.2,366.8 L320.2,373.4" fill="none" stroke-width="2.0"/>
<path d="M295.2,368.8 L295.2,376.6 L299.0,379.7 L304.5,381.2" fill="none" stroke-width="2.0"/>
<path d="M299.0,371.0 L303.8,373.0 L303.8,379.0" fill="none" stroke-width="1.8"/>
<path d="M299.0,379.7 L314.7,394.5" fill="none" stroke-width="2.0"/>
<circle cx="317.0" cy="392.6" r="2.4" fill="#000" stroke="none"/>
<path d="M316.5,394.0 L315.5,400.8 L316.2,408.6 L319.4,412.5 L319.4,426.0" fill="none" stroke-width="2.0"/>
<path d="M305.3,372.7 L318.6,380.5 L318.6,386.7" fill="none" stroke-width="2.0"/>
<path d="M319.4,385.2 L335.0,407.0" fill="none" stroke-width="2.0"/>
<path d="M322.5,383.6 L337.6,405.0" fill="none" stroke-width="1.8"/>
<circle cx="332.2" cy="409.2" r="2.4" fill="#000" stroke="none"/>
<path d="M332.0,409.5 L338.9,407.0 L339.7,396.0" fill="none" stroke-width="1.9"/>
<path d="M318.6,380.5 L327.2,375.8 L328.8,382.0" fill="none" stroke-width="1.9"/>
<path d="M323.3,383.6 L346.7,396.9" fill="none" stroke-width="1.9"/>
<path d="M342.8,398.4 L353.8,405.5" fill="none" stroke-width="1.9"/>
<path d="M331.0,373.4 L339.7,373.4 L344.4,377.3 L344.4,380.5" fill="none" stroke-width="1.9"/>
<circle cx="335.0" cy="377.2" r="2.4" fill="#000" stroke="none"/>
<path d="M331.0,373.4 L351.4,360.2" fill="none" stroke-width="1.9"/>
<path d="M339.7,373.4 L353.8,364.0 L365.0,364.0" fill="none" stroke-width="1.9"/>
<circle cx="309.5" cy="369.8" r="2.6" fill="#000" stroke="none"/>
<line x1="272.3" y1="425.0" x2="300.5" y2="450.8" stroke-width="1.6"/>
<g transform="rotate(-25 303.1 456.5)">
<path d="M303.1,449.5 L306.6,449.5 A5.8,7 0 0 1 306.6,463.5 L303.1,463.5" fill="#fff" stroke-width="1.7"/>
<ellipse cx="303.1" cy="456.5" rx="5.8" ry="7" fill="#fff" stroke-width="1.7"/>
</g>
<line x1="311.5" y1="450.8" x2="362.0" y2="424.0" stroke-width="1.6" stroke-dasharray="10 5"/>
<ellipse cx="359.4" cy="422.8" rx="3.5" ry="5" fill="none" stroke-width="1.7" transform="rotate(-30 359.4 422.8)"/>
<line x1="262.0" y1="484.4" x2="314.8" y2="480.0" stroke-width="1.6"/>
<g transform="rotate(-30 318.5 476.7)">
<path d="M318.5,471.2 L321.5,471.2 A4.5,5.5 0 0 1 321.5,482.2 L318.5,482.2" fill="#fff" stroke-width="1.7"/>
<ellipse cx="318.5" cy="476.7" rx="4.5" ry="5.5" fill="#fff" stroke-width="1.7"/>
</g>
<line x1="326.8" y1="472.3" x2="368.6" y2="448.1" stroke-width="1.6" stroke-dasharray="10 5"/>
<line x1="594.5" y1="467.0" x2="587.1" y2="423.8" stroke-width="1.6"/>
<g transform="rotate(-30 583.5 418.3)">
<path d="M583.5,412.3 L586.5,412.3 A4.8,6 0 0 1 586.5,424.3 L583.5,424.3" fill="#fff" stroke-width="1.7"/>
<ellipse cx="583.5" cy="418.3" rx="4.8" ry="6" fill="#fff" stroke-width="1.7"/>
</g>
<line x1="578.1" y1="415.0" x2="542.5" y2="392.3" stroke-width="1.6" stroke-dasharray="10 5"/>
<line x1="658.8" y1="384.0" x2="666.0" y2="420.0" stroke-width="1.6"/>
<g transform="rotate(-25 654.5 373.4)">
<path d="M654.5,362.4 L658.5,362.4 A8.5,11 0 0 1 658.5,384.4 L654.5,384.4" fill="#fff" stroke-width="1.7"/>
<ellipse cx="654.5" cy="373.4" rx="8.5" ry="11" fill="#fff" stroke-width="1.7"/>
</g>
<line x1="645.0" y1="367.0" x2="607.0" y2="345.8" stroke-width="1.6" stroke-dasharray="10 5"/>
<line x1="673.1" y1="565.2" x2="668.2" y2="605.6" stroke-width="1.6"/>
<g>
<path d="M658.9,609.5 L658.9,613.0 A7.5,4.5 0 0 0 673.9,613.0 L673.9,609.5" fill="#fff" stroke-width="1.7"/>
<ellipse cx="666.4" cy="609.5" rx="7.5" ry="4.5" fill="#fff" stroke-width="1.7"/>
</g>
<line x1="667.0" y1="623.0" x2="667.0" y2="714.0" stroke-width="1.6" stroke-dasharray="12 3 2 3"/>
<ellipse cx="667.0" cy="716.3" rx="6" ry="4" fill="none" stroke-width="1.7"/>
<line x1="537.0" y1="595.0" x2="547.6" y2="637.2" stroke-width="1.6"/>
<path d="M540.6,642.5 L540.6,646.5 A11.5,7.5 0 0 0 563.6,646.5 L563.6,642.5" fill="#fff" stroke-width="1.8"/>
<ellipse cx="552.1" cy="642.5" rx="11.5" ry="7.5" fill="#fff" stroke-width="1.9"/>
<ellipse cx="552.1" cy="642.2" rx="7.13" ry="4.125" fill="none" stroke-width="2.2"/>
<ellipse cx="552.1" cy="642.8" rx="4.0249999999999995" ry="2.25" fill="none" stroke-width="1.4"/>
<line x1="552.0" y1="660.0" x2="552.0" y2="738.0" stroke-width="1.6" stroke-dasharray="12 3 2 3"/>
<path d="M553.0,697.0 L573.5,708.8 L573.5,752.0" fill="none" stroke-width="1.6"/>
<line x1="396.4" y1="688.2" x2="406.9" y2="707.6" stroke-width="1.6"/>
<path d="M398.4,712.0 L398.4,716.0 A11,7.2 0 0 0 420.4,716.0 L420.4,712.0" fill="#fff" stroke-width="1.8"/>
<ellipse cx="409.4" cy="712.0" rx="11" ry="7.2" fill="#fff" stroke-width="1.9"/>
<ellipse cx="409.4" cy="711.7" rx="6.82" ry="3.9600000000000004" fill="none" stroke-width="2.2"/>
<ellipse cx="409.4" cy="712.3" rx="3.8499999999999996" ry="2.16" fill="none" stroke-width="1.4"/>
<line x1="410.0" y1="727.0" x2="410.0" y2="822.0" stroke-width="1.6" stroke-dasharray="12 3 2 3"/>
<path d="M410.0,779.0 L431.0,791.0 L431.0,834.0" fill="none" stroke-width="1.6"/>
<line x1="501.9" y1="702.3" x2="514.2" y2="726.9" stroke-width="1.6"/>
<line x1="312.1" y1="753.6" x2="325.1" y2="776.6" stroke-width="1.6"/>
<g>
<path d="M319.6,781.5 L319.6,785.0 A8,5 0 0 0 335.6,785.0 L335.6,781.5" fill="#fff" stroke-width="1.7"/>
<ellipse cx="327.6" cy="781.5" rx="8" ry="5" fill="#fff" stroke-width="1.7"/>
</g>
<line x1="328.0" y1="794.0" x2="328.0" y2="848.0" stroke-width="1.6" stroke-dasharray="12 3 2 3"/>
<line x1="760.1" y1="745.3" x2="736.9" y2="771.3" stroke-width="1.6"/>
<g transform="rotate(-20 729.4 777.5)">
<path d="M729.4,769.5 L732.4,769.5 A6.5,8 0 0 1 732.4,785.5 L729.4,785.5" fill="#fff" stroke-width="1.7"/>
<ellipse cx="729.4" cy="777.5" rx="6.5" ry="8" fill="#fff" stroke-width="1.7"/>
</g>
<path d="M717.7,782.5 L694.2,790.8" fill="none" stroke-width="1.6"/>
<line x1="694.2" y1="790.8" x2="683.0" y2="745.0" stroke-width="1.6" stroke-dasharray="10 5"/>
<line x1="721.8" y1="830.0" x2="684.9" y2="824.6" stroke-width="1.6"/>
<g>
<path d="M668.2,820.5 L668.2,824.0 A8.5,5 0 0 0 685.2,824.0 L685.2,820.5" fill="#fff" stroke-width="1.7"/>
<ellipse cx="676.7" cy="820.5" rx="8.5" ry="5" fill="#fff" stroke-width="1.7"/>
</g>
<path d="M678.0,831.0 L678.0,846.5 L629.9,820.9" fill="none" stroke-width="1.6"/>
<path d="M545.5,836.7 L573.6,851.8 L686.1,787.5 L647.5,766.4" fill="none" stroke-width="1.6"/>
<line x1="617.6" y1="880.6" x2="594.7" y2="914.0" stroke-width="1.6"/>
<g transform="rotate(-25 589.4 921.1)">
<path d="M589.4,913.6 L592.4,913.6 A5.5,7.5 0 0 1 592.4,928.6 L589.4,928.6" fill="#fff" stroke-width="1.7"/>
<ellipse cx="589.4" cy="921.1" rx="5.5" ry="7.5" fill="#fff" stroke-width="1.7"/>
</g>
<line x1="571.9" y1="912.3" x2="468.1" y2="852.5" stroke-width="1.6" stroke-dasharray="14 6"/>
<line x1="655.2" y1="905.3" x2="612.3" y2="929.9" stroke-width="1.6"/>
<g transform="rotate(-25 606.3 931.6)">
<path d="M606.3,924.1 L609.3,924.1 A5.5,7.5 0 0 1 609.3,939.1 L606.3,939.1" fill="#fff" stroke-width="1.7"/>
<ellipse cx="606.3" cy="931.6" rx="5.5" ry="7.5" fill="#fff" stroke-width="1.7"/>
</g>
<g>
<path d="M489.1,911.5 L489.1,914.5 A6.5,7 0 0 0 502.1,914.5 L502.1,911.5" fill="#fff" stroke-width="1.7"/>
<ellipse cx="495.6" cy="911.5" rx="6.5" ry="7" fill="#fff" stroke-width="1.7"/>
</g>
<line x1="500.0" y1="923.0" x2="505.0" y2="955.0" stroke-width="1.6"/>
<path d="M487.5,917.6 L459.3,924.6" fill="none" stroke-width="1.6"/>
<line x1="459.3" y1="924.6" x2="450.5" y2="887.7" stroke-width="1.6" stroke-dasharray="8 5"/>
<path d="M667.0,704.5 L548.8,769.0 L548.8,781.0" fill="none" stroke-width="1.6"/>
<ellipse cx="548.8" cy="784.0" rx="5" ry="3.2" fill="none" stroke-width="1.7"/>
<path d="M686.3,790.4 L609.0,742.0 L609.0,748.0" fill="none" stroke-width="1.6"/>
<ellipse cx="609.0" cy="750.6" rx="5" ry="3.2" fill="none" stroke-width="1.7"/>
<path d="M489.2,817.0 L489.2,803.4 L523.2,828.0" fill="none" stroke-width="1.7"/>
<text transform="translate(439.42,225.00) scale(0.2689,0.2686)" font-size="100" fill="#000" stroke="#fff" stroke-width="1.2">5</text>
<text transform="translate(453.99,225.00) scale(0.2747,0.2686)" font-size="100" fill="#000" stroke="#fff" stroke-width="1.2">7</text>
<rect x="430" y="186" width="51" height="51" fill="#ff0000" fill-opacity="0.5" stroke="none"/>
</svg>
<div class="bar"><div style="position:absolute;left:0;top:0;width:1024px;height:1px;background:#5a5a5a"></div>
<svg width="1024" height="102" viewBox="0 0 1024 102">
<text transform="translate(250.48,70.00) scale(0.4800,0.4203)" font-size="100" fill="#fff" font-family="Liberation Sans">I</text><text transform="translate(261.81,69.59) scale(0.3579,0.4085)" font-size="100" fill="#fff" font-family="Liberation Sans">S</text><text transform="translate(287.09,69.59) scale(0.3643,0.4143)" font-size="100" fill="#fff" font-family="Liberation Sans">U</text><text transform="translate(313.18,70.00) scale(0.3727,0.4203)" font-size="100" fill="#fff" font-family="Liberation Sans">Z</text><text transform="translate(336.77,69.59) scale(0.3661,0.4143)" font-size="100" fill="#fff" font-family="Liberation Sans">U</text><rect x="372.7" y="55.8" width="9.6" height="3.3" fill="#fff"/><path d="M404.90,70.00 L404.90,42.00 M406.70,41.60 L396.20,47.96" stroke="#fff" stroke-width="4.2" fill="none"/><path d="M428.40,70.00 L428.40,42.00 M430.20,41.60 L419.60,47.96" stroke="#fff" stroke-width="4.2" fill="none"/><path d="M450.40,70.00 L450.40,42.00 M452.20,41.60 L441.50,47.96" stroke="#fff" stroke-width="4.2" fill="none"/><path d="M473.80,70.00 L473.80,42.00 M475.60,41.60 L465.00,47.96" stroke="#fff" stroke-width="4.2" fill="none"/><text transform="translate(482.58,70.50) scale(0.4239,0.4286)" font-size="100" fill="#fff" font-family="Liberation Sans">2</text><text transform="translate(506.08,70.08) scale(0.3848,0.4225)" font-size="100" fill="#fff" font-family="Liberation Sans">9</text><text transform="translate(530.14,70.08) scale(0.3646,0.4225)" font-size="100" fill="#fff" font-family="Liberation Sans">0</text><text transform="translate(550.98,70.08) scale(0.4043,0.4225)" font-size="100" fill="#fff" font-family="Liberation Sans">6</text><text transform="translate(572.76,70.94) scale(0.4196,0.4412)" font-size="100" fill="#fff" font-family="Liberation Sans">4</text><path d="M609.50,70.00 L609.50,42.00 M611.30,41.60 L600.80,47.96" stroke="#fff" stroke-width="4.2" fill="none"/><text transform="translate(667.46,70.00) scale(0.4054,0.4203)" font-size="100" fill="#fff" font-family="Liberation Sans">N</text><rect x="706.8" y="55.8" width="9.6" height="3.3" fill="#fff"/><text transform="translate(728.40,70.07) scale(0.3745,0.4257)" font-size="100" fill="#fff" font-family="Liberation Sans">5</text><text transform="translate(750.48,70.43) scale(0.3630,0.4265)" font-size="100" fill="#fff" font-family="Liberation Sans">7</text>
</svg>
</div>
</body></html>
